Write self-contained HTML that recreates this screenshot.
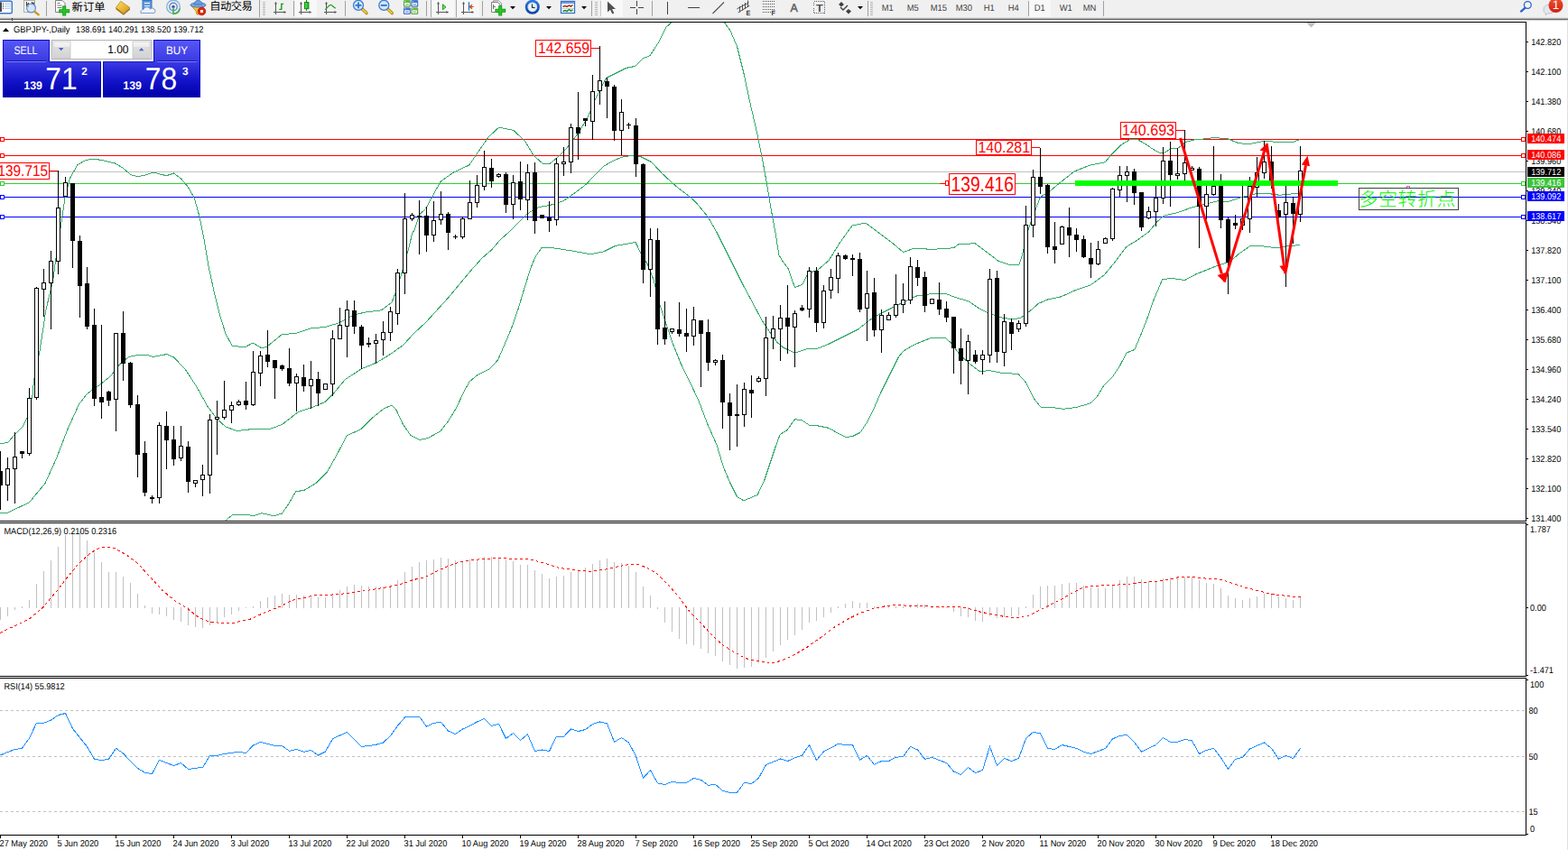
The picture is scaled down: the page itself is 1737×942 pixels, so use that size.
<!DOCTYPE html>
<html><head><meta charset="utf-8"><title>GBPJPY Daily</title>
<style>html,body{margin:0;padding:0;background:#fff;overflow:hidden}body{width:1737px;height:942px}svg{display:block}text{white-space:pre}</style>
</head><body>
<svg width="1737" height="942" viewBox="0 0 1737 942" font-family="'Liberation Sans', sans-serif" text-rendering="geometricPrecision">
<rect x="0" y="0" width="1737" height="942" fill="#fff"/>
<defs><clipPath id="c1"><rect x="0" y="25" width="1690" height="552"/></clipPath><clipPath id="c2"><rect x="0" y="580" width="1690" height="169"/></clipPath><clipPath id="c3"><rect x="0" y="752" width="1690" height="173"/></clipPath></defs>
<g clip-path="url(#c1)">
<rect x="0" y="154" width="1690" height="1" fill="#ff0000"/>
<rect x="0" y="172" width="1690" height="1" fill="#ff0000"/>
<rect x="0" y="190" width="1690" height="1" fill="#c0c0c0"/>
<rect x="0" y="203" width="1690" height="1" fill="#32cd32"/>
<rect x="0" y="218" width="1690" height="1" fill="#0000ff"/>
<rect x="0" y="240" width="1690" height="1" fill="#0000ff"/>
<g shape-rendering="crispEdges">
<polyline fill="none" stroke="#35a96b" stroke-width="1" points="0.0,491.8 8.8,490.5 16.0,481.8 25.0,473.0 30.0,463.0 36.0,438.0 37.5,421.8 43.8,390.5 51.0,343.0 58.8,310.0 64.5,267.5 67.5,250.0 72.5,216.0 77.5,197.5 86.0,182.5 95.0,177.5 104.0,176.0 115.0,178.0 127.5,181.0 136.0,186.0 145.0,193.8 152.5,195.5 160.0,194.5 170.0,191.0 180.0,193.8 185.0,194.5 192.5,192.0 200.0,197.5 207.5,206.0 215.0,218.8 221.0,240.0 226.0,265.0 231.0,295.0 237.5,325.0 243.8,350.0 250.0,370.0 257.0,383.0 271.0,385.0 280.0,380.0 290.0,385.8 296.0,384.0 312.5,370.5 327.5,369.5 345.0,363.8 360.0,362.5 375.0,358.0 392.5,348.8 405.0,346.0 422.5,343.8 434.0,335.0 439.0,322.5 446.5,297.5 452.8,275.0 456.5,259.0 459.0,255.0 465.0,237.5 471.5,231.5 487.8,201.5 501.5,191.5 520.0,182.8 530.0,167.8 541.5,151.5 552.8,141.0 569.0,144.5 581.5,156.5 591.5,172.8 601.5,181.5 609.0,181.5 616.5,175.3 627.8,164.0 641.5,146.5 651.5,129.0 660.0,109.0 671.5,86.5 684.0,80.3 694.0,75.3 704.0,73.3 711.5,65.3 720.0,61.5 729.0,47.8 737.8,30.3 744.0,24.8 750.0,10.0 775.0,-5.0 795.0,8.0 802.8,25.3 809.0,34.0 816.5,51.5 824.0,81.5 831.5,116.5 839.0,149.0 845.0,179.0 850.0,206.5 855.0,236.5 859.0,257.8 862.8,282.5 868.0,291.0 873.0,297.5 880.5,318.8 889.0,315.0 895.5,302.5 905.5,299.5 918.0,288.8 930.5,268.8 944.0,250.0 959.0,247.0 968.0,253.8 978.0,261.3 988.0,268.8 1000.5,279.5 1013.0,275.0 1030.5,276.3 1043.3,275.8 1056.7,274.7 1061.7,270.8 1080.0,269.7 1088.3,275.8 1101.7,285.8 1105.0,288.8 1117.5,293.3 1128.8,293.8 1132.5,282.5 1137.5,260.0 1143.8,240.0 1146.7,233.3 1152.5,218.3 1163.3,211.7 1173.3,203.3 1190.0,190.0 1206.7,183.3 1224.2,179.7 1231.7,170.8 1241.7,160.8 1251.7,154.7 1260.8,155.0 1268.3,159.2 1276.7,165.0 1285.0,169.7 1290.0,169.2 1296.7,165.0 1305.0,164.2 1313.3,157.5 1322.5,155.0 1335.0,153.8 1345.0,152.5 1360.0,153.8 1372.5,158.8 1385.0,159.5 1400.0,156.3 1417.5,157.5 1432.5,157.5 1440.0,154.5"/>
<polyline fill="none" stroke="#35a96b" stroke-width="1" points="0.0,569.0 8.8,568.0 32.5,556.8 50.0,535.5 62.5,508.0 75.0,475.5 87.5,448.0 96.0,436.8 110.0,426.8 122.5,416.8 132.5,404.0 142.5,395.5 152.5,393.5 165.0,394.0 170.0,395.5 185.0,392.5 192.5,396.0 205.0,409.0 217.5,428.0 230.0,450.5 240.0,464.0 250.0,473.0 262.5,477.5 280.0,475.5 297.5,476.0 312.5,470.5 330.0,456.8 345.0,451.8 360.0,445.5 370.0,435.5 382.5,420.5 400.0,409.0 417.5,401.8 434.0,391.5 446.5,382.5 459.0,369.0 471.5,357.5 484.0,343.8 496.5,330.0 509.0,315.0 521.5,300.0 534.0,286.0 544.0,277.5 554.0,266.0 564.0,257.0 574.0,247.0 584.0,237.0 596.5,229.5 609.0,227.5 624.0,222.8 636.5,214.0 649.0,204.5 659.0,194.0 669.0,184.0 680.0,177.8 691.5,173.3 699.0,172.8 709.0,173.3 721.5,179.5 734.0,192.8 749.0,206.5 764.0,217.8 771.5,225.0 784.0,240.0 794.0,257.5 804.0,277.5 814.0,297.5 824.0,317.5 834.0,336.0 844.0,355.0 854.0,370.0 861.5,380.0 868.0,385.3 880.5,391.3 893.0,387.0 905.5,386.3 918.0,381.3 933.0,373.8 950.5,365.0 963.0,355.0 975.5,347.5 988.0,341.3 1003.0,333.8 1015.5,328.0 1030.5,325.8 1048.0,325.5 1058.0,329.5 1073.0,333.8 1085.5,342.5 1095.5,347.0 1110.0,352.0 1120.5,353.8 1130.5,352.5 1140.5,345.0 1150.5,336.3 1160.5,332.0 1175.5,328.8 1190.5,322.0 1208.0,316.0 1223.0,305.0 1235.5,290.0 1247.5,273.8 1260.0,266.0 1272.5,257.0 1282.5,245.0 1290.0,238.8 1305.0,235.5 1320.0,230.0 1335.0,226.3 1350.0,222.5 1360.0,223.8 1375.0,218.8 1390.0,215.0 1405.0,214.5 1417.5,216.3 1430.0,215.0 1440.0,213.8"/>
<polyline fill="none" stroke="#35a96b" stroke-width="1" points="245.0,590.0 250.0,576.8 257.5,570.5 275.0,570.5 280.0,572.0 290.0,568.8 304.0,571.8 312.5,569.0 320.0,558.0 327.5,545.0 337.5,543.0 350.0,535.5 362.5,523.0 375.0,500.5 384.0,483.0 400.0,475.5 412.5,463.0 425.0,453.0 434.0,449.0 439.0,454.3 446.5,470.5 455.0,482.5 465.0,487.5 474.0,485.5 487.8,478.0 496.5,466.8 505.0,453.0 514.0,434.0 520.0,423.0 529.0,415.5 542.8,408.5 551.5,399.0 559.0,381.8 566.5,364.0 574.0,342.5 581.5,317.5 587.8,297.5 592.8,285.0 600.0,274.5 614.0,275.0 634.0,278.0 654.0,281.8 669.0,278.8 681.5,272.5 696.5,270.0 704.0,268.3 709.0,278.8 716.5,291.3 724.0,310.0 730.0,335.0 737.8,358.8 745.0,380.0 754.0,402.5 764.0,423.0 774.0,444.0 784.0,470.5 794.0,493.0 801.5,518.0 809.0,535.5 816.5,550.5 824.0,554.8 839.0,548.5 846.5,533.0 854.0,510.5 859.0,495.5 864.0,481.8 868.0,479.0 871.8,476.8 880.5,464.8 888.0,465.5 896.8,471.3 905.5,471.8 918.0,474.3 928.0,480.0 938.0,484.8 945.5,483.0 953.0,479.3 960.5,468.0 968.0,453.0 975.5,435.5 985.5,415.5 995.5,395.5 1000.5,389.3 1013.0,381.8 1030.5,374.8 1048.0,375.0 1054.0,380.5 1063.0,393.0 1075.5,404.3 1085.5,411.8 1095.5,410.5 1108.0,413.0 1128.0,414.5 1136.8,424.3 1145.5,441.8 1153.0,451.3 1168.0,451.8 1178.0,453.3 1193.0,451.3 1208.0,446.8 1215.5,439.3 1223.0,426.8 1233.0,416.8 1240.5,405.5 1248.0,391.0 1256.8,387.5 1263.0,373.0 1270.5,354.0 1278.0,332.5 1287.5,310.0 1297.5,308.3 1312.5,310.5 1325.0,303.8 1337.5,298.8 1350.0,293.8 1362.5,290.0 1372.5,281.3 1385.0,272.5 1400.0,273.0 1415.0,275.0 1425.0,273.0 1440.0,271.5"/>
</g>
<g shape-rendering="crispEdges">
<rect x="0" y="500" width="1" height="65" fill="#000"/>
<rect x="-2" y="522" width="5" height="16" fill="#000"/>
<rect x="8" y="507" width="1" height="48" fill="#000"/>
<rect x="6" y="519" width="5" height="19" fill="#000"/>
<rect x="7" y="520" width="3" height="17" fill="#fff"/>
<rect x="16" y="479" width="1" height="79" fill="#000"/>
<rect x="14" y="506" width="5" height="14" fill="#000"/>
<rect x="15" y="507" width="3" height="12" fill="#fff"/>
<rect x="24" y="500" width="1" height="8" fill="#000"/>
<rect x="22" y="500" width="5" height="3" fill="#000"/>
<rect x="32" y="430" width="1" height="75" fill="#000"/>
<rect x="30" y="441" width="5" height="62" fill="#000"/>
<rect x="31" y="442" width="3" height="60" fill="#fff"/>
<rect x="40" y="318" width="1" height="125" fill="#000"/>
<rect x="38" y="319" width="5" height="122" fill="#000"/>
<rect x="39" y="320" width="3" height="120" fill="#fff"/>
<rect x="48" y="298" width="1" height="53" fill="#000"/>
<rect x="46" y="313" width="5" height="8" fill="#000"/>
<rect x="47" y="314" width="3" height="6" fill="#fff"/>
<rect x="56" y="278" width="1" height="87" fill="#000"/>
<rect x="54" y="289" width="5" height="25" fill="#000"/>
<rect x="55" y="290" width="3" height="23" fill="#fff"/>
<rect x="64" y="189" width="1" height="115" fill="#000"/>
<rect x="62" y="230" width="5" height="60" fill="#000"/>
<rect x="63" y="231" width="3" height="58" fill="#fff"/>
<rect x="72" y="196" width="1" height="22" fill="#000"/>
<rect x="70" y="202" width="5" height="16" fill="#000"/>
<rect x="71" y="203" width="3" height="14" fill="#fff"/>
<rect x="80" y="203" width="1" height="94" fill="#000"/>
<rect x="78" y="203" width="5" height="64" fill="#000"/>
<rect x="88" y="261" width="1" height="91" fill="#000"/>
<rect x="86" y="267" width="5" height="50" fill="#000"/>
<rect x="96" y="296" width="1" height="69" fill="#000"/>
<rect x="94" y="314" width="5" height="48" fill="#000"/>
<rect x="104" y="342" width="1" height="108" fill="#000"/>
<rect x="102" y="360" width="5" height="82" fill="#000"/>
<rect x="112" y="360" width="1" height="104" fill="#000"/>
<rect x="110" y="440" width="5" height="6" fill="#000"/>
<rect x="120" y="433" width="1" height="17" fill="#000"/>
<rect x="118" y="434" width="5" height="10" fill="#000"/>
<rect x="128" y="369" width="1" height="109" fill="#000"/>
<rect x="126" y="369" width="5" height="74" fill="#000"/>
<rect x="127" y="370" width="3" height="72" fill="#fff"/>
<rect x="136" y="345" width="1" height="77" fill="#000"/>
<rect x="134" y="369" width="5" height="34" fill="#000"/>
<rect x="144" y="401" width="1" height="51" fill="#000"/>
<rect x="142" y="402" width="5" height="47" fill="#000"/>
<rect x="152" y="438" width="1" height="91" fill="#000"/>
<rect x="150" y="448" width="5" height="56" fill="#000"/>
<rect x="160" y="489" width="1" height="61" fill="#000"/>
<rect x="158" y="502" width="5" height="44" fill="#000"/>
<rect x="168" y="549" width="1" height="9" fill="#000"/>
<rect x="166" y="551" width="5" height="2" fill="#000"/>
<rect x="176" y="468" width="1" height="90" fill="#000"/>
<rect x="174" y="471" width="5" height="81" fill="#000"/>
<rect x="175" y="472" width="3" height="79" fill="#fff"/>
<rect x="184" y="456" width="1" height="64" fill="#000"/>
<rect x="182" y="472" width="5" height="16" fill="#000"/>
<rect x="192" y="472" width="1" height="44" fill="#000"/>
<rect x="190" y="487" width="5" height="22" fill="#000"/>
<rect x="200" y="472" width="1" height="39" fill="#000"/>
<rect x="198" y="494" width="5" height="14" fill="#000"/>
<rect x="199" y="495" width="3" height="12" fill="#fff"/>
<rect x="208" y="489" width="1" height="57" fill="#000"/>
<rect x="206" y="495" width="5" height="39" fill="#000"/>
<rect x="216" y="532" width="1" height="8" fill="#000"/>
<rect x="214" y="532" width="5" height="4" fill="#000"/>
<rect x="215" y="533" width="3" height="2" fill="#fff"/>
<rect x="224" y="515" width="1" height="35" fill="#000"/>
<rect x="222" y="526" width="5" height="6" fill="#000"/>
<rect x="223" y="527" width="3" height="4" fill="#fff"/>
<rect x="232" y="459" width="1" height="88" fill="#000"/>
<rect x="230" y="465" width="5" height="62" fill="#000"/>
<rect x="231" y="466" width="3" height="60" fill="#fff"/>
<rect x="240" y="444" width="1" height="60" fill="#000"/>
<rect x="238" y="462" width="5" height="3" fill="#000"/>
<rect x="239" y="463" width="3" height="1" fill="#fff"/>
<rect x="248" y="422" width="1" height="43" fill="#000"/>
<rect x="246" y="454" width="5" height="9" fill="#000"/>
<rect x="247" y="455" width="3" height="7" fill="#fff"/>
<rect x="256" y="445" width="1" height="24" fill="#000"/>
<rect x="254" y="449" width="5" height="6" fill="#000"/>
<rect x="255" y="450" width="3" height="4" fill="#fff"/>
<rect x="264" y="443" width="1" height="7" fill="#000"/>
<rect x="262" y="445" width="5" height="4" fill="#000"/>
<rect x="263" y="446" width="3" height="2" fill="#fff"/>
<rect x="272" y="423" width="1" height="31" fill="#000"/>
<rect x="270" y="444" width="5" height="5" fill="#000"/>
<rect x="280" y="389" width="1" height="61" fill="#000"/>
<rect x="278" y="412" width="5" height="37" fill="#000"/>
<rect x="279" y="413" width="3" height="35" fill="#fff"/>
<rect x="288" y="389" width="1" height="39" fill="#000"/>
<rect x="286" y="394" width="5" height="20" fill="#000"/>
<rect x="287" y="395" width="3" height="18" fill="#fff"/>
<rect x="296" y="366" width="1" height="41" fill="#000"/>
<rect x="294" y="393" width="5" height="8" fill="#000"/>
<rect x="304" y="399" width="1" height="43" fill="#000"/>
<rect x="302" y="399" width="5" height="9" fill="#000"/>
<rect x="312" y="404" width="1" height="7" fill="#000"/>
<rect x="310" y="405" width="5" height="4" fill="#000"/>
<rect x="320" y="386" width="1" height="42" fill="#000"/>
<rect x="318" y="408" width="5" height="17" fill="#000"/>
<rect x="328" y="414" width="1" height="42" fill="#000"/>
<rect x="326" y="417" width="5" height="8" fill="#000"/>
<rect x="327" y="418" width="3" height="6" fill="#fff"/>
<rect x="336" y="404" width="1" height="30" fill="#000"/>
<rect x="334" y="418" width="5" height="10" fill="#000"/>
<rect x="344" y="400" width="1" height="53" fill="#000"/>
<rect x="342" y="420" width="5" height="8" fill="#000"/>
<rect x="343" y="421" width="3" height="6" fill="#fff"/>
<rect x="352" y="412" width="1" height="38" fill="#000"/>
<rect x="350" y="420" width="5" height="16" fill="#000"/>
<rect x="360" y="425" width="1" height="7" fill="#000"/>
<rect x="358" y="425" width="5" height="7" fill="#000"/>
<rect x="359" y="426" width="3" height="5" fill="#fff"/>
<rect x="368" y="366" width="1" height="73" fill="#000"/>
<rect x="366" y="375" width="5" height="51" fill="#000"/>
<rect x="367" y="376" width="3" height="49" fill="#fff"/>
<rect x="376" y="341" width="1" height="35" fill="#000"/>
<rect x="374" y="360" width="5" height="16" fill="#000"/>
<rect x="375" y="361" width="3" height="14" fill="#fff"/>
<rect x="384" y="333" width="1" height="63" fill="#000"/>
<rect x="382" y="343" width="5" height="19" fill="#000"/>
<rect x="383" y="344" width="3" height="17" fill="#fff"/>
<rect x="392" y="333" width="1" height="37" fill="#000"/>
<rect x="390" y="344" width="5" height="18" fill="#000"/>
<rect x="400" y="360" width="1" height="49" fill="#000"/>
<rect x="398" y="362" width="5" height="21" fill="#000"/>
<rect x="408" y="374" width="1" height="11" fill="#000"/>
<rect x="406" y="380" width="5" height="2" fill="#000"/>
<rect x="416" y="370" width="1" height="33" fill="#000"/>
<rect x="414" y="377" width="5" height="4" fill="#000"/>
<rect x="415" y="378" width="3" height="2" fill="#fff"/>
<rect x="424" y="356" width="1" height="38" fill="#000"/>
<rect x="422" y="368" width="5" height="9" fill="#000"/>
<rect x="423" y="369" width="3" height="7" fill="#fff"/>
<rect x="432" y="340" width="1" height="38" fill="#000"/>
<rect x="430" y="345" width="5" height="24" fill="#000"/>
<rect x="431" y="346" width="3" height="22" fill="#fff"/>
<rect x="440" y="298" width="1" height="62" fill="#000"/>
<rect x="438" y="302" width="5" height="46" fill="#000"/>
<rect x="439" y="303" width="3" height="44" fill="#fff"/>
<rect x="448" y="214" width="1" height="112" fill="#000"/>
<rect x="446" y="242" width="5" height="61" fill="#000"/>
<rect x="447" y="243" width="3" height="59" fill="#fff"/>
<rect x="456" y="236" width="1" height="9" fill="#000"/>
<rect x="454" y="238" width="5" height="5" fill="#000"/>
<rect x="455" y="239" width="3" height="3" fill="#fff"/>
<rect x="464" y="222" width="1" height="60" fill="#000"/>
<rect x="462" y="239" width="5" height="2" fill="#000"/>
<rect x="472" y="229" width="1" height="50" fill="#000"/>
<rect x="470" y="239" width="5" height="22" fill="#000"/>
<rect x="480" y="223" width="1" height="45" fill="#000"/>
<rect x="478" y="244" width="5" height="17" fill="#000"/>
<rect x="479" y="245" width="3" height="15" fill="#fff"/>
<rect x="488" y="212" width="1" height="37" fill="#000"/>
<rect x="486" y="237" width="5" height="7" fill="#000"/>
<rect x="487" y="238" width="3" height="5" fill="#fff"/>
<rect x="496" y="235" width="1" height="42" fill="#000"/>
<rect x="494" y="237" width="5" height="21" fill="#000"/>
<rect x="504" y="260" width="1" height="5" fill="#000"/>
<rect x="502" y="262" width="5" height="1" fill="#000"/>
<rect x="512" y="240" width="1" height="25" fill="#000"/>
<rect x="510" y="242" width="5" height="21" fill="#000"/>
<rect x="511" y="243" width="3" height="19" fill="#fff"/>
<rect x="520" y="200" width="1" height="43" fill="#000"/>
<rect x="518" y="224" width="5" height="19" fill="#000"/>
<rect x="519" y="225" width="3" height="17" fill="#fff"/>
<rect x="528" y="194" width="1" height="36" fill="#000"/>
<rect x="526" y="205" width="5" height="20" fill="#000"/>
<rect x="527" y="206" width="3" height="18" fill="#fff"/>
<rect x="536" y="167" width="1" height="44" fill="#000"/>
<rect x="534" y="185" width="5" height="22" fill="#000"/>
<rect x="535" y="186" width="3" height="20" fill="#fff"/>
<rect x="544" y="176" width="1" height="32" fill="#000"/>
<rect x="542" y="186" width="5" height="15" fill="#000"/>
<rect x="552" y="192" width="1" height="5" fill="#000"/>
<rect x="550" y="193" width="5" height="3" fill="#000"/>
<rect x="551" y="194" width="3" height="1" fill="#fff"/>
<rect x="560" y="191" width="1" height="45" fill="#000"/>
<rect x="558" y="193" width="5" height="34" fill="#000"/>
<rect x="568" y="194" width="1" height="49" fill="#000"/>
<rect x="566" y="202" width="5" height="25" fill="#000"/>
<rect x="567" y="203" width="3" height="23" fill="#fff"/>
<rect x="576" y="179" width="1" height="54" fill="#000"/>
<rect x="574" y="201" width="5" height="20" fill="#000"/>
<rect x="584" y="182" width="1" height="62" fill="#000"/>
<rect x="582" y="191" width="5" height="31" fill="#000"/>
<rect x="583" y="192" width="3" height="29" fill="#fff"/>
<rect x="592" y="180" width="1" height="79" fill="#000"/>
<rect x="590" y="191" width="5" height="54" fill="#000"/>
<rect x="600" y="238" width="1" height="4" fill="#000"/>
<rect x="598" y="238" width="5" height="4" fill="#000"/>
<rect x="608" y="223" width="1" height="34" fill="#000"/>
<rect x="606" y="241" width="5" height="4" fill="#000"/>
<rect x="616" y="175" width="1" height="75" fill="#000"/>
<rect x="614" y="181" width="5" height="63" fill="#000"/>
<rect x="615" y="182" width="3" height="61" fill="#fff"/>
<rect x="624" y="163" width="1" height="32" fill="#000"/>
<rect x="622" y="179" width="5" height="3" fill="#000"/>
<rect x="623" y="180" width="3" height="1" fill="#fff"/>
<rect x="632" y="137" width="1" height="55" fill="#000"/>
<rect x="630" y="141" width="5" height="39" fill="#000"/>
<rect x="631" y="142" width="3" height="37" fill="#fff"/>
<rect x="640" y="102" width="1" height="75" fill="#000"/>
<rect x="638" y="141" width="5" height="7" fill="#000"/>
<rect x="648" y="131" width="1" height="9" fill="#000"/>
<rect x="646" y="131" width="5" height="3" fill="#000"/>
<rect x="656" y="83" width="1" height="72" fill="#000"/>
<rect x="654" y="101" width="5" height="34" fill="#000"/>
<rect x="655" y="102" width="3" height="32" fill="#fff"/>
<rect x="664" y="51" width="1" height="65" fill="#000"/>
<rect x="662" y="89" width="5" height="12" fill="#000"/>
<rect x="663" y="90" width="3" height="10" fill="#fff"/>
<rect x="672" y="86" width="1" height="45" fill="#000"/>
<rect x="670" y="90" width="5" height="6" fill="#000"/>
<rect x="680" y="94" width="1" height="62" fill="#000"/>
<rect x="678" y="96" width="5" height="49" fill="#000"/>
<rect x="688" y="110" width="1" height="62" fill="#000"/>
<rect x="686" y="124" width="5" height="21" fill="#000"/>
<rect x="687" y="125" width="3" height="19" fill="#fff"/>
<rect x="696" y="136" width="1" height="7" fill="#000"/>
<rect x="694" y="138" width="5" height="1" fill="#000"/>
<rect x="704" y="131" width="1" height="65" fill="#000"/>
<rect x="702" y="139" width="5" height="43" fill="#000"/>
<rect x="712" y="181" width="1" height="133" fill="#000"/>
<rect x="710" y="182" width="5" height="117" fill="#000"/>
<rect x="720" y="253" width="1" height="76" fill="#000"/>
<rect x="718" y="265" width="5" height="34" fill="#000"/>
<rect x="719" y="266" width="3" height="32" fill="#fff"/>
<rect x="728" y="253" width="1" height="129" fill="#000"/>
<rect x="726" y="266" width="5" height="99" fill="#000"/>
<rect x="736" y="334" width="1" height="48" fill="#000"/>
<rect x="734" y="363" width="5" height="13" fill="#000"/>
<rect x="744" y="364" width="1" height="6" fill="#000"/>
<rect x="742" y="364" width="5" height="4" fill="#000"/>
<rect x="743" y="365" width="3" height="2" fill="#fff"/>
<rect x="752" y="335" width="1" height="38" fill="#000"/>
<rect x="750" y="365" width="5" height="5" fill="#000"/>
<rect x="760" y="342" width="1" height="48" fill="#000"/>
<rect x="758" y="369" width="5" height="4" fill="#000"/>
<rect x="768" y="340" width="1" height="43" fill="#000"/>
<rect x="766" y="354" width="5" height="19" fill="#000"/>
<rect x="767" y="355" width="3" height="17" fill="#fff"/>
<rect x="776" y="355" width="1" height="74" fill="#000"/>
<rect x="774" y="355" width="5" height="15" fill="#000"/>
<rect x="784" y="354" width="1" height="57" fill="#000"/>
<rect x="782" y="368" width="5" height="34" fill="#000"/>
<rect x="792" y="398" width="1" height="7" fill="#000"/>
<rect x="790" y="399" width="5" height="3" fill="#000"/>
<rect x="791" y="400" width="3" height="1" fill="#fff"/>
<rect x="800" y="393" width="1" height="82" fill="#000"/>
<rect x="798" y="399" width="5" height="47" fill="#000"/>
<rect x="808" y="436" width="1" height="63" fill="#000"/>
<rect x="806" y="446" width="5" height="15" fill="#000"/>
<rect x="816" y="426" width="1" height="69" fill="#000"/>
<rect x="814" y="459" width="5" height="2" fill="#000"/>
<rect x="824" y="424" width="1" height="49" fill="#000"/>
<rect x="822" y="431" width="5" height="29" fill="#000"/>
<rect x="823" y="432" width="3" height="27" fill="#fff"/>
<rect x="832" y="416" width="1" height="47" fill="#000"/>
<rect x="830" y="432" width="5" height="4" fill="#000"/>
<rect x="840" y="417" width="1" height="7" fill="#000"/>
<rect x="838" y="419" width="5" height="4" fill="#000"/>
<rect x="839" y="420" width="3" height="2" fill="#fff"/>
<rect x="848" y="351" width="1" height="88" fill="#000"/>
<rect x="846" y="374" width="5" height="46" fill="#000"/>
<rect x="847" y="375" width="3" height="44" fill="#fff"/>
<rect x="856" y="350" width="1" height="37" fill="#000"/>
<rect x="854" y="364" width="5" height="11" fill="#000"/>
<rect x="855" y="365" width="3" height="9" fill="#fff"/>
<rect x="864" y="338" width="1" height="62" fill="#000"/>
<rect x="862" y="352" width="5" height="13" fill="#000"/>
<rect x="863" y="353" width="3" height="11" fill="#fff"/>
<rect x="872" y="316" width="1" height="76" fill="#000"/>
<rect x="870" y="352" width="5" height="10" fill="#000"/>
<rect x="880" y="344" width="1" height="63" fill="#000"/>
<rect x="878" y="347" width="5" height="16" fill="#000"/>
<rect x="879" y="348" width="3" height="14" fill="#fff"/>
<rect x="888" y="338" width="1" height="7" fill="#000"/>
<rect x="886" y="341" width="5" height="3" fill="#000"/>
<rect x="896" y="296" width="1" height="56" fill="#000"/>
<rect x="894" y="300" width="5" height="43" fill="#000"/>
<rect x="895" y="301" width="3" height="41" fill="#fff"/>
<rect x="904" y="296" width="1" height="72" fill="#000"/>
<rect x="902" y="300" width="5" height="58" fill="#000"/>
<rect x="912" y="316" width="1" height="48" fill="#000"/>
<rect x="910" y="322" width="5" height="36" fill="#000"/>
<rect x="911" y="323" width="3" height="34" fill="#fff"/>
<rect x="920" y="298" width="1" height="33" fill="#000"/>
<rect x="918" y="307" width="5" height="15" fill="#000"/>
<rect x="919" y="308" width="3" height="13" fill="#fff"/>
<rect x="928" y="280" width="1" height="45" fill="#000"/>
<rect x="926" y="283" width="5" height="26" fill="#000"/>
<rect x="927" y="284" width="3" height="24" fill="#fff"/>
<rect x="936" y="282" width="1" height="6" fill="#000"/>
<rect x="934" y="283" width="5" height="4" fill="#000"/>
<rect x="944" y="282" width="1" height="24" fill="#000"/>
<rect x="942" y="286" width="5" height="2" fill="#000"/>
<rect x="952" y="280" width="1" height="66" fill="#000"/>
<rect x="950" y="287" width="5" height="56" fill="#000"/>
<rect x="960" y="300" width="1" height="78" fill="#000"/>
<rect x="958" y="325" width="5" height="17" fill="#000"/>
<rect x="959" y="326" width="3" height="15" fill="#fff"/>
<rect x="968" y="308" width="1" height="65" fill="#000"/>
<rect x="966" y="324" width="5" height="42" fill="#000"/>
<rect x="976" y="343" width="1" height="48" fill="#000"/>
<rect x="974" y="349" width="5" height="17" fill="#000"/>
<rect x="975" y="350" width="3" height="15" fill="#fff"/>
<rect x="984" y="346" width="1" height="9" fill="#000"/>
<rect x="982" y="349" width="5" height="6" fill="#000"/>
<rect x="983" y="350" width="3" height="4" fill="#fff"/>
<rect x="992" y="304" width="1" height="48" fill="#000"/>
<rect x="990" y="337" width="5" height="13" fill="#000"/>
<rect x="991" y="338" width="3" height="11" fill="#fff"/>
<rect x="1000" y="314" width="1" height="33" fill="#000"/>
<rect x="998" y="332" width="5" height="6" fill="#000"/>
<rect x="999" y="333" width="3" height="4" fill="#fff"/>
<rect x="1008" y="285" width="1" height="52" fill="#000"/>
<rect x="1006" y="295" width="5" height="38" fill="#000"/>
<rect x="1007" y="296" width="3" height="36" fill="#fff"/>
<rect x="1016" y="288" width="1" height="29" fill="#000"/>
<rect x="1014" y="296" width="5" height="12" fill="#000"/>
<rect x="1024" y="301" width="1" height="45" fill="#000"/>
<rect x="1022" y="307" width="5" height="32" fill="#000"/>
<rect x="1032" y="331" width="1" height="6" fill="#000"/>
<rect x="1030" y="331" width="5" height="6" fill="#000"/>
<rect x="1031" y="332" width="3" height="4" fill="#fff"/>
<rect x="1040" y="313" width="1" height="36" fill="#000"/>
<rect x="1038" y="332" width="5" height="11" fill="#000"/>
<rect x="1048" y="334" width="1" height="23" fill="#000"/>
<rect x="1046" y="342" width="5" height="10" fill="#000"/>
<rect x="1056" y="351" width="1" height="63" fill="#000"/>
<rect x="1054" y="351" width="5" height="35" fill="#000"/>
<rect x="1064" y="364" width="1" height="62" fill="#000"/>
<rect x="1062" y="386" width="5" height="14" fill="#000"/>
<rect x="1072" y="371" width="1" height="66" fill="#000"/>
<rect x="1070" y="378" width="5" height="22" fill="#000"/>
<rect x="1071" y="379" width="3" height="20" fill="#fff"/>
<rect x="1080" y="388" width="1" height="15" fill="#000"/>
<rect x="1078" y="393" width="5" height="8" fill="#000"/>
<rect x="1088" y="388" width="1" height="27" fill="#000"/>
<rect x="1086" y="393" width="5" height="6" fill="#000"/>
<rect x="1087" y="394" width="3" height="4" fill="#fff"/>
<rect x="1096" y="298" width="1" height="104" fill="#000"/>
<rect x="1094" y="309" width="5" height="85" fill="#000"/>
<rect x="1095" y="310" width="3" height="83" fill="#fff"/>
<rect x="1104" y="300" width="1" height="102" fill="#000"/>
<rect x="1102" y="308" width="5" height="82" fill="#000"/>
<rect x="1112" y="348" width="1" height="58" fill="#000"/>
<rect x="1110" y="356" width="5" height="35" fill="#000"/>
<rect x="1111" y="357" width="3" height="33" fill="#fff"/>
<rect x="1120" y="353" width="1" height="35" fill="#000"/>
<rect x="1118" y="357" width="5" height="13" fill="#000"/>
<rect x="1128" y="355" width="1" height="13" fill="#000"/>
<rect x="1126" y="358" width="5" height="7" fill="#000"/>
<rect x="1127" y="359" width="3" height="5" fill="#fff"/>
<rect x="1136" y="228" width="1" height="134" fill="#000"/>
<rect x="1134" y="249" width="5" height="110" fill="#000"/>
<rect x="1135" y="250" width="3" height="108" fill="#fff"/>
<rect x="1144" y="188" width="1" height="75" fill="#000"/>
<rect x="1142" y="196" width="5" height="54" fill="#000"/>
<rect x="1143" y="197" width="3" height="52" fill="#fff"/>
<rect x="1152" y="164" width="1" height="51" fill="#000"/>
<rect x="1150" y="196" width="5" height="11" fill="#000"/>
<rect x="1160" y="204" width="1" height="77" fill="#000"/>
<rect x="1158" y="205" width="5" height="69" fill="#000"/>
<rect x="1168" y="246" width="1" height="46" fill="#000"/>
<rect x="1166" y="273" width="5" height="4" fill="#000"/>
<rect x="1176" y="250" width="1" height="21" fill="#000"/>
<rect x="1174" y="251" width="5" height="20" fill="#000"/>
<rect x="1175" y="252" width="3" height="18" fill="#fff"/>
<rect x="1184" y="230" width="1" height="55" fill="#000"/>
<rect x="1182" y="252" width="5" height="9" fill="#000"/>
<rect x="1192" y="253" width="1" height="26" fill="#000"/>
<rect x="1190" y="260" width="5" height="6" fill="#000"/>
<rect x="1200" y="261" width="1" height="25" fill="#000"/>
<rect x="1198" y="265" width="5" height="20" fill="#000"/>
<rect x="1208" y="269" width="1" height="39" fill="#000"/>
<rect x="1206" y="286" width="5" height="7" fill="#000"/>
<rect x="1216" y="267" width="1" height="27" fill="#000"/>
<rect x="1214" y="276" width="5" height="17" fill="#000"/>
<rect x="1215" y="277" width="3" height="15" fill="#fff"/>
<rect x="1224" y="263" width="1" height="7" fill="#000"/>
<rect x="1222" y="264" width="5" height="6" fill="#000"/>
<rect x="1223" y="265" width="3" height="4" fill="#fff"/>
<rect x="1232" y="208" width="1" height="59" fill="#000"/>
<rect x="1230" y="209" width="5" height="56" fill="#000"/>
<rect x="1231" y="210" width="3" height="54" fill="#fff"/>
<rect x="1240" y="184" width="1" height="34" fill="#000"/>
<rect x="1238" y="194" width="5" height="17" fill="#000"/>
<rect x="1239" y="195" width="3" height="15" fill="#fff"/>
<rect x="1248" y="184" width="1" height="40" fill="#000"/>
<rect x="1246" y="190" width="5" height="5" fill="#000"/>
<rect x="1247" y="191" width="3" height="3" fill="#fff"/>
<rect x="1256" y="187" width="1" height="40" fill="#000"/>
<rect x="1254" y="190" width="5" height="24" fill="#000"/>
<rect x="1264" y="213" width="1" height="43" fill="#000"/>
<rect x="1262" y="213" width="5" height="39" fill="#000"/>
<rect x="1272" y="229" width="1" height="14" fill="#000"/>
<rect x="1270" y="234" width="5" height="8" fill="#000"/>
<rect x="1271" y="235" width="3" height="6" fill="#fff"/>
<rect x="1280" y="206" width="1" height="45" fill="#000"/>
<rect x="1278" y="219" width="5" height="16" fill="#000"/>
<rect x="1279" y="220" width="3" height="14" fill="#fff"/>
<rect x="1288" y="163" width="1" height="63" fill="#000"/>
<rect x="1286" y="178" width="5" height="42" fill="#000"/>
<rect x="1287" y="179" width="3" height="40" fill="#fff"/>
<rect x="1296" y="157" width="1" height="72" fill="#000"/>
<rect x="1294" y="178" width="5" height="16" fill="#000"/>
<rect x="1304" y="164" width="1" height="35" fill="#000"/>
<rect x="1302" y="192" width="5" height="3" fill="#000"/>
<rect x="1303" y="193" width="3" height="1" fill="#fff"/>
<rect x="1312" y="144" width="1" height="56" fill="#000"/>
<rect x="1310" y="180" width="5" height="13" fill="#000"/>
<rect x="1311" y="181" width="3" height="11" fill="#fff"/>
<rect x="1320" y="184" width="1" height="5" fill="#000"/>
<rect x="1318" y="186" width="5" height="3" fill="#000"/>
<rect x="1319" y="187" width="3" height="1" fill="#fff"/>
<rect x="1328" y="185" width="1" height="90" fill="#000"/>
<rect x="1326" y="187" width="5" height="42" fill="#000"/>
<rect x="1336" y="205" width="1" height="38" fill="#000"/>
<rect x="1334" y="215" width="5" height="14" fill="#000"/>
<rect x="1335" y="216" width="3" height="12" fill="#fff"/>
<rect x="1344" y="162" width="1" height="55" fill="#000"/>
<rect x="1342" y="206" width="5" height="10" fill="#000"/>
<rect x="1343" y="207" width="3" height="8" fill="#fff"/>
<rect x="1352" y="193" width="1" height="60" fill="#000"/>
<rect x="1350" y="206" width="5" height="38" fill="#000"/>
<rect x="1360" y="241" width="1" height="85" fill="#000"/>
<rect x="1358" y="243" width="5" height="48" fill="#000"/>
<rect x="1368" y="238" width="1" height="16" fill="#000"/>
<rect x="1366" y="247" width="5" height="3" fill="#000"/>
<rect x="1376" y="205" width="1" height="50" fill="#000"/>
<rect x="1374" y="242" width="5" height="8" fill="#000"/>
<rect x="1375" y="243" width="3" height="6" fill="#fff"/>
<rect x="1384" y="196" width="1" height="62" fill="#000"/>
<rect x="1382" y="206" width="5" height="37" fill="#000"/>
<rect x="1383" y="207" width="3" height="35" fill="#fff"/>
<rect x="1392" y="174" width="1" height="44" fill="#000"/>
<rect x="1390" y="191" width="5" height="17" fill="#000"/>
<rect x="1391" y="192" width="3" height="15" fill="#fff"/>
<rect x="1400" y="156" width="1" height="42" fill="#000"/>
<rect x="1398" y="179" width="5" height="13" fill="#000"/>
<rect x="1399" y="180" width="3" height="11" fill="#fff"/>
<rect x="1408" y="162" width="1" height="47" fill="#000"/>
<rect x="1406" y="179" width="5" height="26" fill="#000"/>
<rect x="1416" y="226" width="1" height="16" fill="#000"/>
<rect x="1414" y="233" width="5" height="8" fill="#000"/>
<rect x="1424" y="206" width="1" height="112" fill="#000"/>
<rect x="1422" y="224" width="5" height="14" fill="#000"/>
<rect x="1423" y="225" width="3" height="12" fill="#fff"/>
<rect x="1432" y="218" width="1" height="52" fill="#000"/>
<rect x="1430" y="225" width="5" height="12" fill="#000"/>
<rect x="1440" y="162" width="1" height="84" fill="#000"/>
<rect x="1438" y="189" width="5" height="49" fill="#000"/>
<rect x="1439" y="190" width="3" height="47" fill="#fff"/>
</g>
<rect x="1191" y="200" width="291" height="6" fill="#00ff00"/>
</g>
<rect x="0.5" y="152.5" width="4" height="4" fill="#fff" stroke="#ff0000" stroke-width="1" shape-rendering="crispEdges"/>
<rect x="1685.5" y="152.5" width="4" height="4" fill="#fff" stroke="#ff0000" stroke-width="1" shape-rendering="crispEdges"/>
<rect x="0.5" y="170.5" width="4" height="4" fill="#fff" stroke="#ff0000" stroke-width="1" shape-rendering="crispEdges"/>
<rect x="1685.5" y="170.5" width="4" height="4" fill="#fff" stroke="#ff0000" stroke-width="1" shape-rendering="crispEdges"/>
<rect x="0.5" y="201.5" width="4" height="4" fill="#fff" stroke="#32cd32" stroke-width="1" shape-rendering="crispEdges"/>
<rect x="1685.5" y="201.5" width="4" height="4" fill="#fff" stroke="#32cd32" stroke-width="1" shape-rendering="crispEdges"/>
<rect x="0.5" y="216.5" width="4" height="4" fill="#fff" stroke="#0000ff" stroke-width="1" shape-rendering="crispEdges"/>
<rect x="1685.5" y="216.5" width="4" height="4" fill="#fff" stroke="#0000ff" stroke-width="1" shape-rendering="crispEdges"/>
<rect x="0.5" y="238.5" width="4" height="4" fill="#fff" stroke="#0000ff" stroke-width="1" shape-rendering="crispEdges"/>
<rect x="1685.5" y="238.5" width="4" height="4" fill="#fff" stroke="#0000ff" stroke-width="1" shape-rendering="crispEdges"/>
<rect x="0" y="24" width="1691" height="1" fill="#000"/>
<rect x="0" y="577" width="1691" height="1" fill="#000"/>
<rect x="0" y="579" width="1691" height="1" fill="#000"/>
<rect x="0" y="749" width="1691" height="1" fill="#000"/>
<rect x="0" y="751" width="1691" height="1" fill="#000"/>
<rect x="0" y="925" width="1691" height="1" fill="#000"/>
<rect x="1690" y="24" width="1" height="554" fill="#000"/>
<rect x="1690" y="579" width="1" height="171" fill="#000"/>
<rect x="1690" y="751" width="1" height="175" fill="#000"/>
<path d="M1447,25 L1458,25 L1452.5,30.5 Z" fill="#c0c0c0"/>
<rect x="1691" y="46" width="2" height="1" fill="#000"/>
<text x="1696.2" y="49.94" font-size="10" fill="#000" text-anchor="start" textLength="33.08" lengthAdjust="spacingAndGlyphs">142.820</text>
<rect x="1691" y="79" width="2" height="1" fill="#000"/>
<text x="1696.2" y="82.94" font-size="10" fill="#000" text-anchor="start" textLength="33.08" lengthAdjust="spacingAndGlyphs">142.100</text>
<rect x="1691" y="112" width="2" height="1" fill="#000"/>
<text x="1696.2" y="115.94" font-size="10" fill="#000" text-anchor="start" textLength="33.08" lengthAdjust="spacingAndGlyphs">141.380</text>
<rect x="1691" y="145" width="2" height="1" fill="#000"/>
<text x="1696.2" y="148.94" font-size="10" fill="#000" text-anchor="start" textLength="33.08" lengthAdjust="spacingAndGlyphs">140.680</text>
<rect x="1691" y="178" width="2" height="1" fill="#000"/>
<text x="1696.2" y="181.94" font-size="10" fill="#000" text-anchor="start" textLength="33.08" lengthAdjust="spacingAndGlyphs">139.960</text>
<rect x="1691" y="211" width="2" height="1" fill="#000"/>
<text x="1696.2" y="214.94" font-size="10" fill="#000" text-anchor="start" textLength="33.08" lengthAdjust="spacingAndGlyphs">139.240</text>
<rect x="1691" y="244" width="2" height="1" fill="#000"/>
<text x="1696.2" y="247.94" font-size="10" fill="#000" text-anchor="start" textLength="33.08" lengthAdjust="spacingAndGlyphs">138.540</text>
<rect x="1691" y="277" width="2" height="1" fill="#000"/>
<text x="1696.2" y="280.94" font-size="10" fill="#000" text-anchor="start" textLength="33.08" lengthAdjust="spacingAndGlyphs">137.820</text>
<rect x="1691" y="310" width="2" height="1" fill="#000"/>
<text x="1696.2" y="313.94" font-size="10" fill="#000" text-anchor="start" textLength="33.08" lengthAdjust="spacingAndGlyphs">137.100</text>
<rect x="1691" y="343" width="2" height="1" fill="#000"/>
<text x="1696.2" y="346.94" font-size="10" fill="#000" text-anchor="start" textLength="33.08" lengthAdjust="spacingAndGlyphs">136.400</text>
<rect x="1691" y="376" width="2" height="1" fill="#000"/>
<text x="1696.2" y="379.94" font-size="10" fill="#000" text-anchor="start" textLength="33.08" lengthAdjust="spacingAndGlyphs">135.680</text>
<rect x="1691" y="409" width="2" height="1" fill="#000"/>
<text x="1696.2" y="412.94" font-size="10" fill="#000" text-anchor="start" textLength="33.08" lengthAdjust="spacingAndGlyphs">134.960</text>
<rect x="1691" y="442" width="2" height="1" fill="#000"/>
<text x="1696.2" y="445.94" font-size="10" fill="#000" text-anchor="start" textLength="33.08" lengthAdjust="spacingAndGlyphs">134.240</text>
<rect x="1691" y="475" width="2" height="1" fill="#000"/>
<text x="1696.2" y="478.94" font-size="10" fill="#000" text-anchor="start" textLength="33.08" lengthAdjust="spacingAndGlyphs">133.540</text>
<rect x="1691" y="508" width="2" height="1" fill="#000"/>
<text x="1696.2" y="511.94" font-size="10" fill="#000" text-anchor="start" textLength="33.08" lengthAdjust="spacingAndGlyphs">132.820</text>
<rect x="1691" y="541" width="2" height="1" fill="#000"/>
<text x="1696.2" y="544.94" font-size="10" fill="#000" text-anchor="start" textLength="33.08" lengthAdjust="spacingAndGlyphs">132.100</text>
<rect x="1691" y="574" width="2" height="1" fill="#000"/>
<text x="1696.2" y="577.94" font-size="10" fill="#000" text-anchor="start" textLength="33.08" lengthAdjust="spacingAndGlyphs">131.400</text>
<rect x="1692" y="148" width="41" height="11" fill="#ff0000"/>
<text x="1696.2" y="157.44" font-size="10" fill="#fff" text-anchor="start" textLength="33.08" lengthAdjust="spacingAndGlyphs">140.474</text>
<rect x="1692" y="166" width="41" height="11" fill="#ff0000"/>
<text x="1696.2" y="175.44" font-size="10" fill="#fff" text-anchor="start" textLength="33.08" lengthAdjust="spacingAndGlyphs">140.086</text>
<rect x="1692" y="185" width="41" height="11" fill="#000"/>
<text x="1696.2" y="194.44" font-size="10" fill="#fff" text-anchor="start" textLength="33.08" lengthAdjust="spacingAndGlyphs">139.712</text>
<rect x="1692" y="197" width="41" height="11" fill="#3cc43c"/>
<text x="1696.2" y="206.44" font-size="10" fill="#fff" text-anchor="start" textLength="33.08" lengthAdjust="spacingAndGlyphs">139.416</text>
<rect x="1692" y="212" width="41" height="11" fill="#0000ff"/>
<text x="1696.2" y="221.44" font-size="10" fill="#fff" text-anchor="start" textLength="33.08" lengthAdjust="spacingAndGlyphs">139.092</text>
<rect x="1692" y="234" width="41" height="11" fill="#0000ff"/>
<text x="1696.2" y="243.44" font-size="10" fill="#fff" text-anchor="start" textLength="33.08" lengthAdjust="spacingAndGlyphs">138.617</text>
<g clip-path="url(#c2)" shape-rendering="crispEdges">
<rect x="0" y="673" width="1" height="14" fill="#c0c0c0"/>
<rect x="8" y="673" width="1" height="10" fill="#c0c0c0"/>
<rect x="16" y="673" width="1" height="3" fill="#c0c0c0"/>
<rect x="24" y="672" width="1" height="2" fill="#c0c0c0"/>
<rect x="32" y="665" width="1" height="9" fill="#c0c0c0"/>
<rect x="40" y="647" width="1" height="27" fill="#c0c0c0"/>
<rect x="48" y="633" width="1" height="41" fill="#c0c0c0"/>
<rect x="56" y="621" width="1" height="53" fill="#c0c0c0"/>
<rect x="64" y="606" width="1" height="68" fill="#c0c0c0"/>
<rect x="72" y="593" width="1" height="81" fill="#c0c0c0"/>
<rect x="80" y="589" width="1" height="85" fill="#c0c0c0"/>
<rect x="88" y="589" width="1" height="85" fill="#c0c0c0"/>
<rect x="96" y="599" width="1" height="75" fill="#c0c0c0"/>
<rect x="104" y="612" width="1" height="62" fill="#c0c0c0"/>
<rect x="112" y="623" width="1" height="51" fill="#c0c0c0"/>
<rect x="120" y="634" width="1" height="40" fill="#c0c0c0"/>
<rect x="128" y="634" width="1" height="40" fill="#c0c0c0"/>
<rect x="136" y="639" width="1" height="35" fill="#c0c0c0"/>
<rect x="144" y="646" width="1" height="28" fill="#c0c0c0"/>
<rect x="152" y="658" width="1" height="16" fill="#c0c0c0"/>
<rect x="160" y="671" width="1" height="3" fill="#c0c0c0"/>
<rect x="168" y="673" width="1" height="7" fill="#c0c0c0"/>
<rect x="176" y="673" width="1" height="8" fill="#c0c0c0"/>
<rect x="184" y="673" width="1" height="10" fill="#c0c0c0"/>
<rect x="192" y="673" width="1" height="14" fill="#c0c0c0"/>
<rect x="200" y="673" width="1" height="16" fill="#c0c0c0"/>
<rect x="208" y="673" width="1" height="20" fill="#c0c0c0"/>
<rect x="216" y="673" width="1" height="22" fill="#c0c0c0"/>
<rect x="224" y="673" width="1" height="23" fill="#c0c0c0"/>
<rect x="232" y="673" width="1" height="20" fill="#c0c0c0"/>
<rect x="240" y="673" width="1" height="16" fill="#c0c0c0"/>
<rect x="248" y="673" width="1" height="11" fill="#c0c0c0"/>
<rect x="256" y="673" width="1" height="8" fill="#c0c0c0"/>
<rect x="264" y="673" width="1" height="4" fill="#c0c0c0"/>
<rect x="272" y="673" width="1" height="1" fill="#c0c0c0"/>
<rect x="280" y="672" width="1" height="2" fill="#c0c0c0"/>
<rect x="288" y="666" width="1" height="8" fill="#c0c0c0"/>
<rect x="296" y="662" width="1" height="12" fill="#c0c0c0"/>
<rect x="304" y="660" width="1" height="14" fill="#c0c0c0"/>
<rect x="312" y="658" width="1" height="16" fill="#c0c0c0"/>
<rect x="320" y="659" width="1" height="15" fill="#c0c0c0"/>
<rect x="328" y="659" width="1" height="15" fill="#c0c0c0"/>
<rect x="336" y="660" width="1" height="14" fill="#c0c0c0"/>
<rect x="344" y="660" width="1" height="14" fill="#c0c0c0"/>
<rect x="352" y="662" width="1" height="12" fill="#c0c0c0"/>
<rect x="360" y="662" width="1" height="12" fill="#c0c0c0"/>
<rect x="368" y="658" width="1" height="16" fill="#c0c0c0"/>
<rect x="376" y="654" width="1" height="20" fill="#c0c0c0"/>
<rect x="384" y="650" width="1" height="24" fill="#c0c0c0"/>
<rect x="392" y="648" width="1" height="26" fill="#c0c0c0"/>
<rect x="400" y="649" width="1" height="25" fill="#c0c0c0"/>
<rect x="408" y="650" width="1" height="24" fill="#c0c0c0"/>
<rect x="416" y="650" width="1" height="24" fill="#c0c0c0"/>
<rect x="424" y="650" width="1" height="24" fill="#c0c0c0"/>
<rect x="432" y="648" width="1" height="26" fill="#c0c0c0"/>
<rect x="440" y="643" width="1" height="31" fill="#c0c0c0"/>
<rect x="448" y="634" width="1" height="40" fill="#c0c0c0"/>
<rect x="456" y="628" width="1" height="46" fill="#c0c0c0"/>
<rect x="464" y="623" width="1" height="51" fill="#c0c0c0"/>
<rect x="472" y="621" width="1" height="53" fill="#c0c0c0"/>
<rect x="480" y="620" width="1" height="54" fill="#c0c0c0"/>
<rect x="488" y="618" width="1" height="56" fill="#c0c0c0"/>
<rect x="496" y="619" width="1" height="55" fill="#c0c0c0"/>
<rect x="504" y="621" width="1" height="53" fill="#c0c0c0"/>
<rect x="512" y="622" width="1" height="52" fill="#c0c0c0"/>
<rect x="520" y="620" width="1" height="54" fill="#c0c0c0"/>
<rect x="528" y="620" width="1" height="54" fill="#c0c0c0"/>
<rect x="536" y="617" width="1" height="57" fill="#c0c0c0"/>
<rect x="544" y="617" width="1" height="57" fill="#c0c0c0"/>
<rect x="552" y="618" width="1" height="56" fill="#c0c0c0"/>
<rect x="560" y="621" width="1" height="53" fill="#c0c0c0"/>
<rect x="568" y="622" width="1" height="52" fill="#c0c0c0"/>
<rect x="576" y="626" width="1" height="48" fill="#c0c0c0"/>
<rect x="584" y="626" width="1" height="48" fill="#c0c0c0"/>
<rect x="592" y="632" width="1" height="42" fill="#c0c0c0"/>
<rect x="600" y="636" width="1" height="38" fill="#c0c0c0"/>
<rect x="608" y="641" width="1" height="33" fill="#c0c0c0"/>
<rect x="616" y="639" width="1" height="35" fill="#c0c0c0"/>
<rect x="624" y="638" width="1" height="36" fill="#c0c0c0"/>
<rect x="632" y="634" width="1" height="40" fill="#c0c0c0"/>
<rect x="640" y="631" width="1" height="43" fill="#c0c0c0"/>
<rect x="648" y="629" width="1" height="45" fill="#c0c0c0"/>
<rect x="656" y="625" width="1" height="49" fill="#c0c0c0"/>
<rect x="664" y="621" width="1" height="53" fill="#c0c0c0"/>
<rect x="672" y="619" width="1" height="55" fill="#c0c0c0"/>
<rect x="680" y="623" width="1" height="51" fill="#c0c0c0"/>
<rect x="688" y="624" width="1" height="50" fill="#c0c0c0"/>
<rect x="696" y="627" width="1" height="47" fill="#c0c0c0"/>
<rect x="704" y="634" width="1" height="40" fill="#c0c0c0"/>
<rect x="712" y="650" width="1" height="24" fill="#c0c0c0"/>
<rect x="720" y="660" width="1" height="14" fill="#c0c0c0"/>
<rect x="728" y="673" width="1" height="2" fill="#c0c0c0"/>
<rect x="736" y="673" width="1" height="17" fill="#c0c0c0"/>
<rect x="744" y="673" width="1" height="27" fill="#c0c0c0"/>
<rect x="752" y="673" width="1" height="35" fill="#c0c0c0"/>
<rect x="760" y="673" width="1" height="41" fill="#c0c0c0"/>
<rect x="768" y="673" width="1" height="42" fill="#c0c0c0"/>
<rect x="776" y="673" width="1" height="46" fill="#c0c0c0"/>
<rect x="784" y="673" width="1" height="51" fill="#c0c0c0"/>
<rect x="792" y="673" width="1" height="54" fill="#c0c0c0"/>
<rect x="800" y="673" width="1" height="60" fill="#c0c0c0"/>
<rect x="808" y="673" width="1" height="64" fill="#c0c0c0"/>
<rect x="816" y="673" width="1" height="68" fill="#c0c0c0"/>
<rect x="824" y="673" width="1" height="67" fill="#c0c0c0"/>
<rect x="832" y="673" width="1" height="66" fill="#c0c0c0"/>
<rect x="840" y="673" width="1" height="62" fill="#c0c0c0"/>
<rect x="848" y="673" width="1" height="56" fill="#c0c0c0"/>
<rect x="856" y="673" width="1" height="49" fill="#c0c0c0"/>
<rect x="864" y="673" width="1" height="42" fill="#c0c0c0"/>
<rect x="872" y="673" width="1" height="36" fill="#c0c0c0"/>
<rect x="880" y="673" width="1" height="31" fill="#c0c0c0"/>
<rect x="888" y="673" width="1" height="25" fill="#c0c0c0"/>
<rect x="896" y="673" width="1" height="17" fill="#c0c0c0"/>
<rect x="904" y="673" width="1" height="15" fill="#c0c0c0"/>
<rect x="912" y="673" width="1" height="11" fill="#c0c0c0"/>
<rect x="920" y="673" width="1" height="6" fill="#c0c0c0"/>
<rect x="928" y="672" width="1" height="2" fill="#c0c0c0"/>
<rect x="936" y="669" width="1" height="5" fill="#c0c0c0"/>
<rect x="944" y="666" width="1" height="8" fill="#c0c0c0"/>
<rect x="952" y="668" width="1" height="6" fill="#c0c0c0"/>
<rect x="960" y="668" width="1" height="6" fill="#c0c0c0"/>
<rect x="968" y="672" width="1" height="2" fill="#c0c0c0"/>
<rect x="976" y="673" width="1" height="1" fill="#c0c0c0"/>
<rect x="984" y="672" width="1" height="2" fill="#c0c0c0"/>
<rect x="992" y="672" width="1" height="2" fill="#c0c0c0"/>
<rect x="1000" y="672" width="1" height="2" fill="#c0c0c0"/>
<rect x="1008" y="670" width="1" height="4" fill="#c0c0c0"/>
<rect x="1016" y="669" width="1" height="5" fill="#c0c0c0"/>
<rect x="1024" y="670" width="1" height="4" fill="#c0c0c0"/>
<rect x="1032" y="671" width="1" height="3" fill="#c0c0c0"/>
<rect x="1040" y="672" width="1" height="2" fill="#c0c0c0"/>
<rect x="1048" y="673" width="1" height="1" fill="#c0c0c0"/>
<rect x="1056" y="673" width="1" height="5" fill="#c0c0c0"/>
<rect x="1064" y="673" width="1" height="10" fill="#c0c0c0"/>
<rect x="1072" y="673" width="1" height="11" fill="#c0c0c0"/>
<rect x="1080" y="673" width="1" height="15" fill="#c0c0c0"/>
<rect x="1088" y="673" width="1" height="16" fill="#c0c0c0"/>
<rect x="1096" y="673" width="1" height="10" fill="#c0c0c0"/>
<rect x="1104" y="673" width="1" height="12" fill="#c0c0c0"/>
<rect x="1112" y="673" width="1" height="11" fill="#c0c0c0"/>
<rect x="1120" y="673" width="1" height="10" fill="#c0c0c0"/>
<rect x="1128" y="673" width="1" height="9" fill="#c0c0c0"/>
<rect x="1136" y="672" width="1" height="2" fill="#c0c0c0"/>
<rect x="1144" y="659" width="1" height="15" fill="#c0c0c0"/>
<rect x="1152" y="650" width="1" height="24" fill="#c0c0c0"/>
<rect x="1160" y="649" width="1" height="25" fill="#c0c0c0"/>
<rect x="1168" y="649" width="1" height="25" fill="#c0c0c0"/>
<rect x="1176" y="647" width="1" height="27" fill="#c0c0c0"/>
<rect x="1184" y="646" width="1" height="28" fill="#c0c0c0"/>
<rect x="1192" y="646" width="1" height="28" fill="#c0c0c0"/>
<rect x="1200" y="649" width="1" height="25" fill="#c0c0c0"/>
<rect x="1208" y="651" width="1" height="23" fill="#c0c0c0"/>
<rect x="1216" y="652" width="1" height="22" fill="#c0c0c0"/>
<rect x="1224" y="652" width="1" height="22" fill="#c0c0c0"/>
<rect x="1232" y="649" width="1" height="25" fill="#c0c0c0"/>
<rect x="1240" y="643" width="1" height="31" fill="#c0c0c0"/>
<rect x="1248" y="639" width="1" height="35" fill="#c0c0c0"/>
<rect x="1256" y="639" width="1" height="35" fill="#c0c0c0"/>
<rect x="1264" y="642" width="1" height="32" fill="#c0c0c0"/>
<rect x="1272" y="644" width="1" height="30" fill="#c0c0c0"/>
<rect x="1280" y="644" width="1" height="30" fill="#c0c0c0"/>
<rect x="1288" y="641" width="1" height="33" fill="#c0c0c0"/>
<rect x="1296" y="640" width="1" height="34" fill="#c0c0c0"/>
<rect x="1304" y="640" width="1" height="34" fill="#c0c0c0"/>
<rect x="1312" y="640" width="1" height="34" fill="#c0c0c0"/>
<rect x="1320" y="639" width="1" height="35" fill="#c0c0c0"/>
<rect x="1328" y="643" width="1" height="31" fill="#c0c0c0"/>
<rect x="1336" y="646" width="1" height="28" fill="#c0c0c0"/>
<rect x="1344" y="647" width="1" height="27" fill="#c0c0c0"/>
<rect x="1352" y="652" width="1" height="22" fill="#c0c0c0"/>
<rect x="1360" y="660" width="1" height="14" fill="#c0c0c0"/>
<rect x="1368" y="663" width="1" height="11" fill="#c0c0c0"/>
<rect x="1376" y="665" width="1" height="9" fill="#c0c0c0"/>
<rect x="1384" y="663" width="1" height="11" fill="#c0c0c0"/>
<rect x="1392" y="661" width="1" height="13" fill="#c0c0c0"/>
<rect x="1400" y="658" width="1" height="16" fill="#c0c0c0"/>
<rect x="1408" y="659" width="1" height="15" fill="#c0c0c0"/>
<rect x="1416" y="661" width="1" height="13" fill="#c0c0c0"/>
<rect x="1424" y="663" width="1" height="11" fill="#c0c0c0"/>
<rect x="1432" y="665" width="1" height="9" fill="#c0c0c0"/>
<rect x="1440" y="662" width="1" height="12" fill="#c0c0c0"/>
<polyline fill="none" stroke="#ff0000" stroke-width="1" points="0.0,701.3 15.0,694.3 32.5,686.0 47.5,673.0 62.5,655.5 75.0,639.3 87.5,624.3 100.0,613.0 110.0,607.5 117.5,606.3 127.5,608.0 140.0,615.0 152.5,624.3 165.0,638.0 180.0,654.3 195.0,666.8 207.5,674.3 220.0,684.3 232.5,689.3 247.5,690.5 260.0,690.0 277.5,686.0 295.0,678.0 310.0,672.5 322.5,665.5 335.0,663.0 347.5,659.8 365.0,659.3 380.0,658.0 395.0,656.0 412.5,653.5 434.0,649.8 444.0,647.5 456.5,643.0 471.5,639.3 486.5,631.8 499.0,626.3 509.0,623.0 521.5,620.5 539.0,619.5 552.8,618.0 569.0,619.5 586.5,620.0 601.5,623.5 619.0,629.3 636.5,631.8 654.0,633.5 671.5,631.0 684.0,628.0 696.5,625.5 709.0,626.0 719.0,630.5 729.0,636.8 741.5,649.3 754.0,664.3 764.0,678.0 776.5,690.5 789.0,704.3 801.5,715.5 814.0,723.0 826.5,729.8 839.0,732.5 851.5,734.8 859.0,734.3 868.0,731.0 878.0,726.8 893.0,718.0 910.5,705.5 925.5,694.3 940.5,685.5 953.0,679.3 968.0,674.3 980.5,671.8 993.0,670.5 1008.0,671.3 1028.0,672.0 1048.0,672.5 1060.5,672.5 1073.0,674.3 1085.5,678.0 1100.5,681.0 1113.0,683.5 1125.5,685.0 1138.0,683.0 1150.5,676.8 1163.0,670.5 1175.5,664.3 1188.0,656.8 1200.5,651.0 1213.0,649.3 1230.5,648.5 1248.0,647.5 1263.0,645.5 1280.5,644.3 1293.0,642.5 1304.0,640.0 1322.0,639.8 1334.5,641.0 1348.0,641.5 1359.5,644.3 1372.0,648.8 1384.5,652.5 1397.0,655.5 1409.5,658.5 1422.0,660.0 1432.0,661.3 1440.8,661.3" stroke-dasharray="3 3"/>
</g>
<text x="4.5" y="591.94" font-size="10" fill="#000" text-anchor="start" textLength="124.62" lengthAdjust="spacingAndGlyphs">MACD(12,26,9) 0.2105 0.2316</text>
<rect x="1691" y="581" width="2" height="1" fill="#000"/>
<text x="1695" y="590.44" font-size="10" fill="#000" text-anchor="start" textLength="22.90" lengthAdjust="spacingAndGlyphs">1.787</text>
<rect x="1691" y="673" width="2" height="1" fill="#000"/>
<text x="1695" y="676.94" font-size="10" fill="#000" text-anchor="start" textLength="17.81" lengthAdjust="spacingAndGlyphs">0.00</text>
<rect x="1691" y="748" width="2" height="1" fill="#000"/>
<text x="1695" y="746.44" font-size="10" fill="#000" text-anchor="start" textLength="25.95" lengthAdjust="spacingAndGlyphs">-1.471</text>
<g clip-path="url(#c3)" shape-rendering="crispEdges">
<line x1="0" x2="1690" y1="787.5" y2="787.5" stroke="#c0c0c0" stroke-width="1" stroke-dasharray="3 3"/>
<line x1="0" x2="1690" y1="838.5" y2="838.5" stroke="#c0c0c0" stroke-width="1" stroke-dasharray="3 3"/>
<line x1="0" x2="1690" y1="899.5" y2="899.5" stroke="#c0c0c0" stroke-width="1" stroke-dasharray="3 3"/>
<polyline fill="none" stroke="#1e90ff" stroke-width="1" points="0.5,836.8 8.5,833.5 16.5,830.5 24.5,829.3 32.5,818.0 40.5,801.3 48.5,801.3 56.5,798.0 64.5,792.5 72.5,790.5 80.5,807.5 88.5,817.5 96.5,827.5 104.5,841.3 112.5,842.5 120.5,841.3 128.5,829.3 136.5,835.0 144.5,843.5 152.5,851.3 160.5,856.3 168.5,857.5 176.5,842.3 184.5,845.5 192.5,848.5 200.5,845.5 208.5,852.5 216.5,851.3 224.5,850.5 232.5,837.5 240.5,837.3 248.5,835.5 256.5,834.3 264.5,833.5 272.5,834.5 280.5,826.0 288.5,822.3 296.5,824.3 304.5,826.3 312.5,826.5 320.5,832.3 328.5,830.3 336.5,833.3 344.5,831.5 352.5,837.0 360.5,833.0 368.5,818.8 376.5,815.0 384.5,811.3 392.5,819.3 400.5,827.5 408.5,826.5 416.5,825.3 424.5,823.0 432.5,815.5 440.5,804.3 448.5,795.0 456.5,794.3 464.5,794.3 472.5,805.0 480.5,801.3 488.5,800.5 496.5,810.0 504.5,813.5 512.5,808.0 520.5,804.3 528.5,800.0 536.5,796.3 544.5,804.3 552.5,802.3 560.5,818.5 568.5,812.5 576.5,820.5 584.5,813.8 592.5,832.5 600.5,831.0 608.5,832.5 616.5,816.3 624.5,816.3 632.5,808.0 640.5,810.5 648.5,808.5 656.5,802.5 664.5,800.0 672.5,801.8 680.5,822.3 688.5,817.5 696.5,823.0 704.5,838.0 712.5,862.3 720.5,853.5 728.5,868.0 736.5,869.5 744.5,866.3 752.5,867.5 760.5,867.5 768.5,862.3 776.5,864.3 784.5,870.3 792.5,869.3 800.5,876.3 808.5,878.3 816.5,878.3 824.5,867.3 832.5,868.5 840.5,862.3 848.5,847.5 856.5,844.3 864.5,841.0 872.5,843.5 880.5,839.8 888.5,837.3 896.5,825.5 904.5,842.5 912.5,833.0 920.5,828.8 928.5,824.3 936.5,825.5 944.5,825.5 952.5,842.3 960.5,837.3 968.5,847.3 976.5,843.5 984.5,843.5 992.5,839.3 1000.5,838.5 1008.5,827.3 1016.5,831.0 1024.5,841.3 1032.5,839.3 1040.5,842.5 1048.5,845.5 1056.5,855.0 1064.5,858.5 1072.5,850.5 1080.5,856.5 1088.5,853.5 1096.5,827.5 1104.5,848.5 1112.5,840.5 1120.5,843.5 1128.5,840.5 1136.5,818.5 1144.5,811.3 1152.5,813.0 1160.5,829.3 1168.5,830.5 1176.5,825.5 1184.5,827.5 1192.5,829.3 1200.5,833.3 1208.5,835.5 1216.5,832.5 1224.5,829.5 1232.5,818.8 1240.5,815.5 1248.5,814.3 1256.5,822.3 1264.5,833.3 1272.5,829.3 1280.5,825.5 1288.5,817.5 1296.5,822.3 1304.5,822.3 1312.5,819.3 1320.5,821.0 1328.5,835.5 1336.5,831.3 1344.5,829.3 1352.5,839.8 1360.5,852.3 1368.5,841.3 1376.5,839.3 1384.5,830.0 1392.5,826.3 1400.5,823.0 1408.5,829.3 1416.5,841.3 1424.5,837.3 1432.5,840.5 1440.5,829.3"/>
</g>
<text x="4.5" y="763.94" font-size="10" fill="#000" text-anchor="start" textLength="67.14" lengthAdjust="spacingAndGlyphs">RSI(14) 55.9812</text>
<rect x="1691" y="753" width="2" height="1" fill="#000"/>
<text x="1695" y="761.94" font-size="10" fill="#000" text-anchor="start" textLength="15.27" lengthAdjust="spacingAndGlyphs">100</text>
<text x="1693.5" y="790.94" font-size="10" fill="#000" text-anchor="start" textLength="10.18" lengthAdjust="spacingAndGlyphs">80</text>
<text x="1693.5" y="841.94" font-size="10" fill="#000" text-anchor="start" textLength="10.18" lengthAdjust="spacingAndGlyphs">50</text>
<text x="1693.5" y="902.94" font-size="10" fill="#000" text-anchor="start" textLength="10.18" lengthAdjust="spacingAndGlyphs">15</text>
<rect x="1691" y="924" width="2" height="1" fill="#000"/>
<text x="1695" y="921.94" font-size="10" fill="#000" text-anchor="start" textLength="5.09" lengthAdjust="spacingAndGlyphs">0</text>
<rect x="0" y="926" width="1" height="3" fill="#000"/>
<text x="-0.5" y="937.94" font-size="10" fill="#000" text-anchor="start" textLength="53.48" lengthAdjust="spacingAndGlyphs">27 May 2020</text>
<rect x="64" y="926" width="1" height="3" fill="#000"/>
<text x="63.5" y="937.94" font-size="10" fill="#000" text-anchor="start" textLength="45.78" lengthAdjust="spacingAndGlyphs">5 Jun 2020</text>
<rect x="128" y="926" width="1" height="3" fill="#000"/>
<text x="127.5" y="937.94" font-size="10" fill="#000" text-anchor="start" textLength="50.92" lengthAdjust="spacingAndGlyphs">15 Jun 2020</text>
<rect x="192" y="926" width="1" height="3" fill="#000"/>
<text x="191.5" y="937.94" font-size="10" fill="#000" text-anchor="start" textLength="50.92" lengthAdjust="spacingAndGlyphs">24 Jun 2020</text>
<rect x="256" y="926" width="1" height="3" fill="#000"/>
<text x="255.5" y="937.94" font-size="10" fill="#000" text-anchor="start" textLength="42.69" lengthAdjust="spacingAndGlyphs">3 Jul 2020</text>
<rect x="320" y="926" width="1" height="3" fill="#000"/>
<text x="319.5" y="937.94" font-size="10" fill="#000" text-anchor="start" textLength="47.83" lengthAdjust="spacingAndGlyphs">13 Jul 2020</text>
<rect x="384" y="926" width="1" height="3" fill="#000"/>
<text x="383.5" y="937.94" font-size="10" fill="#000" text-anchor="start" textLength="47.83" lengthAdjust="spacingAndGlyphs">22 Jul 2020</text>
<rect x="448" y="926" width="1" height="3" fill="#000"/>
<text x="447.5" y="937.94" font-size="10" fill="#000" text-anchor="start" textLength="47.83" lengthAdjust="spacingAndGlyphs">31 Jul 2020</text>
<rect x="512" y="926" width="1" height="3" fill="#000"/>
<text x="511.5" y="937.94" font-size="10" fill="#000" text-anchor="start" textLength="51.96" lengthAdjust="spacingAndGlyphs">10 Aug 2020</text>
<rect x="576" y="926" width="1" height="3" fill="#000"/>
<text x="575.5" y="937.94" font-size="10" fill="#000" text-anchor="start" textLength="51.96" lengthAdjust="spacingAndGlyphs">19 Aug 2020</text>
<rect x="640" y="926" width="1" height="3" fill="#000"/>
<text x="639.5" y="937.94" font-size="10" fill="#000" text-anchor="start" textLength="51.96" lengthAdjust="spacingAndGlyphs">28 Aug 2020</text>
<rect x="704" y="926" width="1" height="3" fill="#000"/>
<text x="703.5" y="937.94" font-size="10" fill="#000" text-anchor="start" textLength="47.32" lengthAdjust="spacingAndGlyphs">7 Sep 2020</text>
<rect x="768" y="926" width="1" height="3" fill="#000"/>
<text x="767.5" y="937.94" font-size="10" fill="#000" text-anchor="start" textLength="52.47" lengthAdjust="spacingAndGlyphs">16 Sep 2020</text>
<rect x="832" y="926" width="1" height="3" fill="#000"/>
<text x="831.5" y="937.94" font-size="10" fill="#000" text-anchor="start" textLength="52.47" lengthAdjust="spacingAndGlyphs">25 Sep 2020</text>
<rect x="896" y="926" width="1" height="3" fill="#000"/>
<text x="895.5" y="937.94" font-size="10" fill="#000" text-anchor="start" textLength="45.25" lengthAdjust="spacingAndGlyphs">5 Oct 2020</text>
<rect x="960" y="926" width="1" height="3" fill="#000"/>
<text x="959.5" y="937.94" font-size="10" fill="#000" text-anchor="start" textLength="50.40" lengthAdjust="spacingAndGlyphs">14 Oct 2020</text>
<rect x="1024" y="926" width="1" height="3" fill="#000"/>
<text x="1023.5" y="937.94" font-size="10" fill="#000" text-anchor="start" textLength="50.40" lengthAdjust="spacingAndGlyphs">23 Oct 2020</text>
<rect x="1088" y="926" width="1" height="3" fill="#000"/>
<text x="1087.5" y="937.94" font-size="10" fill="#000" text-anchor="start" textLength="47.31" lengthAdjust="spacingAndGlyphs">2 Nov 2020</text>
<rect x="1152" y="926" width="1" height="3" fill="#000"/>
<text x="1151.5" y="937.94" font-size="10" fill="#000" text-anchor="start" textLength="51.77" lengthAdjust="spacingAndGlyphs">11 Nov 2020</text>
<rect x="1216" y="926" width="1" height="3" fill="#000"/>
<text x="1215.5" y="937.94" font-size="10" fill="#000" text-anchor="start" textLength="52.46" lengthAdjust="spacingAndGlyphs">20 Nov 2020</text>
<rect x="1280" y="926" width="1" height="3" fill="#000"/>
<text x="1279.5" y="937.94" font-size="10" fill="#000" text-anchor="start" textLength="52.46" lengthAdjust="spacingAndGlyphs">30 Nov 2020</text>
<rect x="1344" y="926" width="1" height="3" fill="#000"/>
<text x="1343.5" y="937.94" font-size="10" fill="#000" text-anchor="start" textLength="47.31" lengthAdjust="spacingAndGlyphs">9 Dec 2020</text>
<rect x="1408" y="926" width="1" height="3" fill="#000"/>
<text x="1407.5" y="937.94" font-size="10" fill="#000" text-anchor="start" textLength="52.46" lengthAdjust="spacingAndGlyphs">18 Dec 2020</text>
<g clip-path="url(#c1)">
<rect x="-19.5" y="180.5" width="74" height="18" fill="#fff" stroke="#ff0000" stroke-width="1" shape-rendering="crispEdges"/>
<text x="-2.5" y="195.42" font-size="17.2" fill="#ff0000" textLength="55.5" lengthAdjust="spacingAndGlyphs">139.715</text>
<rect x="55" y="189" width="9" height="1" fill="#ff0000"/>
<rect x="593.5" y="44.5" width="61" height="18" fill="#fff" stroke="#ff0000" stroke-width="1" shape-rendering="crispEdges"/>
<text x="596" y="59.42" font-size="17.2" fill="#ff0000" textLength="57" lengthAdjust="spacingAndGlyphs">142.659</text>
<rect x="655" y="53" width="9" height="1" fill="#ff0000"/>
<rect x="1081.5" y="155.5" width="61" height="16" fill="#fff" stroke="#ff0000" stroke-width="1" shape-rendering="crispEdges"/>
<text x="1083.5" y="169.42" font-size="17.2" fill="#ff0000" textLength="57.5" lengthAdjust="spacingAndGlyphs">140.281</text>
<rect x="1143" y="163" width="9" height="1" fill="#ff0000"/>
<rect x="1241.5" y="135.5" width="61" height="18" fill="#fff" stroke="#ff0000" stroke-width="1" shape-rendering="crispEdges"/>
<text x="1243" y="150.42" font-size="17.2" fill="#ff0000" textLength="58" lengthAdjust="spacingAndGlyphs">140.693</text>
<rect x="1303" y="144" width="9" height="1" fill="#ff0000"/>
<rect x="1041" y="203" width="10" height="1" fill="#ff0000"/>
<rect x="1047.5" y="200.5" width="3" height="5" fill="#fff" stroke="#ff0000" stroke-width="1" shape-rendering="crispEdges"/>
<rect x="1051.5" y="192.5" width="73" height="23" fill="#fff" stroke="#ff0000" stroke-width="1" shape-rendering="crispEdges"/>
<text x="1053.5" y="211.98" font-size="23.2" fill="#ff0000" textLength="69.5" lengthAdjust="spacingAndGlyphs">139.416</text>
<rect x="1505.5" y="208.5" width="110" height="24" fill="#fff" stroke="#404040" stroke-width="1" shape-rendering="crispEdges"/>
<rect x="1506" y="218" width="109" height="1" fill="#0000ff"/>
<text x="1505.6" y="227.6" font-size="21" fill="#00f800" font-family="'Liberation Sans', 'Noto Sans CJK SC', sans-serif" font-weight="300" textLength="107" lengthAdjust="spacing">多空转折点</text>
<rect x="1558" y="206" width="4" height="1" fill="#e040e0"/>
<rect x="1558" y="207" width="1" height="1" fill="#e040e0"/>
<rect x="1561" y="207" width="1" height="1" fill="#e040e0"/>
<line x1="1307.5" y1="153" x2="1353.4" y2="303.4" stroke="#ff0000" stroke-width="3"/>
<polygon fill="#ff0000" points="1348.6,304.9 1356.2,312.5 1358.2,302.0"/>
<line x1="1356.2" y1="312.5" x2="1400.4" y2="168.1" stroke="#ff0000" stroke-width="3"/>
<polygon fill="#ff0000" points="1405.2,169.5 1403.2,159 1395.6,166.6"/>
<line x1="1403.2" y1="159" x2="1422.4" y2="294.1" stroke="#ff0000" stroke-width="3"/>
<polygon fill="#ff0000" points="1417.4,294.8 1423.7,303.5 1427.3,293.4"/>
<line x1="1423.7" y1="303.5" x2="1446.5" y2="183.3" stroke="#ff0000" stroke-width="3"/>
<polygon fill="#ff0000" points="1451.0,184.2 1448.5,172.5 1441.9,182.5"/>
</g>
<path d="M3,35 L10,35 L6.5,31 Z" fill="#000"/>
<text x="15" y="35.94" font-size="10" fill="#000" text-anchor="start" textLength="62.53" lengthAdjust="spacingAndGlyphs">GBPJPY-,Daily</text>
<text x="84" y="35.94" font-size="10" fill="#000" text-anchor="start" textLength="141.46" lengthAdjust="spacingAndGlyphs">138.691 140.291 138.520 139.712</text>
<defs><linearGradient id="gb" x1="0" y1="0" x2="0" y2="1"><stop offset="0" stop-color="#3b3be6"/><stop offset="0.55" stop-color="#1212c8"/><stop offset="1" stop-color="#0000a8"/></linearGradient><linearGradient id="gt" x1="0" y1="0" x2="0" y2="1"><stop offset="0" stop-color="#5858f4"/><stop offset="1" stop-color="#3a3ae4"/></linearGradient><linearGradient id="gbtn" x1="0" y1="0" x2="0" y2="1"><stop offset="0" stop-color="#f6f6f6"/><stop offset="0.3" stop-color="#ececec"/><stop offset="0.32" stop-color="#dedede"/><stop offset="1" stop-color="#d2d2d2"/></linearGradient></defs>
<rect x="3" y="44" width="52" height="24" fill="url(#gt)"/>
<rect x="170" y="44" width="52" height="24" fill="url(#gt)"/>
<rect x="3" y="68" width="109" height="40" fill="url(#gb)"/>
<rect x="114" y="68" width="108" height="40" fill="url(#gb)"/>
<rect x="3" y="44" width="52" height="1" fill="#0a0ac0"/>
<rect x="3" y="44" width="1" height="24" fill="#0a0ac0"/>
<rect x="54" y="44" width="1" height="24" fill="#0a0ac0"/>
<rect x="170" y="44" width="52" height="1" fill="#0a0ac0"/>
<rect x="170" y="44" width="1" height="24" fill="#0a0ac0"/>
<rect x="221" y="44" width="1" height="24" fill="#0a0ac0"/>
<rect x="3" y="68" width="1" height="40" fill="#0a0ac0"/>
<rect x="221" y="68" width="1" height="40" fill="#0a0ac0"/>
<rect x="111" y="68" width="1" height="40" fill="#0a0ab0"/>
<rect x="114" y="68" width="1" height="40" fill="#0a0ab0"/>
<rect x="54" y="68" width="58" height="1" fill="#1c1cc4"/>
<rect x="114" y="68" width="57" height="1" fill="#1c1cc4"/>
<rect x="7" y="67" width="44" height="1" fill="#1a1ab4"/>
<rect x="7" y="68" width="44" height="1" fill="#7c7cf4"/>
<rect x="174" y="67" width="44" height="1" fill="#1a1ab4"/>
<rect x="174" y="68" width="44" height="1" fill="#7c7cf4"/>
<rect x="57.5" y="44.5" width="110" height="21" fill="#fff" stroke="#b4b4b4" stroke-width="1"/>
<rect x="59" y="46" width="19" height="19" fill="url(#gbtn)" stroke="#c4c4c4" stroke-width="0.8"/>
<rect x="147" y="46" width="19" height="19" fill="url(#gbtn)" stroke="#c4c4c4" stroke-width="0.8"/>
<path d="M65,53 L70.4,53 L67.7,56.2 Z" fill="#4464c4"/>
<path d="M154,56.2 L159.4,56.2 L156.7,53 Z" fill="#4464c4"/>
<text x="142.5" y="59.33" font-size="12.6" fill="#000" text-anchor="end" textLength="23.30" lengthAdjust="spacingAndGlyphs">1.00</text>
<text x="28.5" y="59.77" font-size="12.4" fill="#fff" text-anchor="middle" textLength="26.09" lengthAdjust="spacingAndGlyphs">SELL</text>
<text x="196" y="59.77" font-size="12.4" fill="#fff" text-anchor="middle" textLength="24.22" lengthAdjust="spacingAndGlyphs">BUY</text>
<text x="26.3" y="99.03" font-size="12.6" fill="#fff" text-anchor="start" textLength="20.60" lengthAdjust="spacingAndGlyphs" font-weight="bold">139</text>
<text x="50.2" y="98.90" font-size="34.6" fill="#fff" text-anchor="start" textLength="35.41" lengthAdjust="spacingAndGlyphs">71</text>
<text x="90.2" y="83.26" font-size="11.8" fill="#fff" text-anchor="start" textLength="6.56" lengthAdjust="spacingAndGlyphs" font-weight="bold">2</text>
<text x="136.3" y="99.03" font-size="12.6" fill="#fff" text-anchor="start" textLength="20.60" lengthAdjust="spacingAndGlyphs" font-weight="bold">139</text>
<text x="160.8" y="98.90" font-size="34.6" fill="#fff" text-anchor="start" textLength="35.41" lengthAdjust="spacingAndGlyphs">78</text>
<text x="202" y="83.26" font-size="11.8" fill="#fff" text-anchor="start" textLength="6.56" lengthAdjust="spacingAndGlyphs" font-weight="bold">3</text>
<rect x="0" y="0" width="1737" height="20" fill="#f0f0f0"/>
<rect x="0" y="19" width="1737" height="1" fill="#e2e2e2"/>
<rect x="0" y="20" width="1737" height="1" fill="#b0b0b0"/>
<rect x="0" y="21" width="1737" height="1" fill="#6c6c6c"/>
<rect x="0" y="22" width="1737" height="1" fill="#d4d4d4"/>
<rect x="0" y="23" width="1737" height="1" fill="#fff"/>
<rect x="13" y="20" width="1" height="1" fill="#202020"/>
<rect x="13" y="22" width="1" height="1" fill="#202020"/>
<rect x="1736" y="22" width="1" height="920" fill="#e0e0e0"/>
<g>
<rect x="-3" y="1.2" width="16.3" height="13.6" rx="1.6" fill="#fff" stroke="#3b78c6" stroke-width="1.5"/>
<rect x="0" y="2" width="2" height="1" fill="#5a90d8"/>
<rect x="0" y="3" width="2" height="10" fill="#3c4454"/>
<rect x="3" y="3" width="1" height="1" fill="#e02020"/>
<rect x="5" y="3" width="8" height="1" fill="#b4ccf0"/>
<rect x="3" y="5" width="1" height="1" fill="#303030"/>
<rect x="5" y="5" width="8" height="1" fill="#b4ccf0"/>
<rect x="3" y="7" width="1" height="1" fill="#303030"/>
<rect x="5" y="7" width="8" height="1" fill="#b4ccf0"/>
<rect x="3" y="9" width="1" height="1" fill="#e02020"/>
<rect x="5" y="9" width="8" height="1" fill="#b4ccf0"/>
<rect x="26.5" y="0.5" width="12" height="13" fill="#f6f5f0" stroke="#b6ae9e"/>
<path d="M29.5,2 v5 M29.5,4.5 h2 M31.5,3 v5 M35.5,2 v4 M35.5,3.5 h2 M37.5,2.5 v4" stroke="#404040" stroke-width="1" fill="none"/>
<circle cx="34.5" cy="9" r="4.9" fill="#cfe0f4" fill-opacity="0.8" stroke="#5a92dc" stroke-width="1.2"/>
<path d="M38.6,12.9 L42.6,16.2" stroke="#c8a024" stroke-width="2.6" stroke-linecap="round"/>
<rect x="51" y="1" width="1" height="17" fill="#a0a0a0"/>
<path d="M61.5,0.5 h7.5 l3,3 v10 h-10.5 z" fill="#fff" stroke="#808080"/>
<path d="M63.5,3.5 h3 M63.5,6 h5 M63.5,8.5 h5" stroke="#707070" stroke-width="1"/>
<path d="M71.2,6.6 v11 M65.2,12.3 h12" stroke="#128a12" stroke-width="4"/>
<path d="M71.2,7.2 v9.8 M65.8,12.3 h10.8" stroke="#22c822" stroke-width="2.6"/>
<text x="79.6" y="11.5" font-size="12.3" fill="#000" font-family="'Liberation Sans', 'Noto Sans CJK SC', sans-serif" textLength="36.9" lengthAdjust="spacing">新订单</text>
<defs><linearGradient id="gg" x1="0" y1="0" x2="1" y2="1"><stop offset="0" stop-color="#fbe458"/><stop offset="1" stop-color="#d8901c"/></linearGradient></defs>
<path d="M128.3,8.6 L133.8,1.4 L144,8.6 L136.8,14.6 Z" fill="url(#gg)" stroke="#b88418" stroke-width="0.8"/>
<path d="M128.5,9.6 L136.8,15.9 L144,9.8" fill="none" stroke="#9c6810" stroke-width="1.3"/>
<rect x="158" y="0.5" width="10" height="9" fill="#5c9ae0" stroke="#3a70b8"/>
<rect x="160" y="3" width="6" height="1" fill="#fff"/>
<rect x="160" y="6" width="6" height="1" fill="#d8e8f8"/>
<path d="M156,14.5 a3,3 0 0 1 3,-4 a4,4 0 0 1 7.5,-0.5 a3,3 0 0 1 4.5,4.5 z" fill="#eef3fa" stroke="#7a9cc8" stroke-width="1"/>
<circle cx="192" cy="7.5" r="7.3" fill="none" stroke="#8ab0dc" stroke-width="1.4"/>
<circle cx="192" cy="7.5" r="4.2" fill="none" stroke="#5a8cd0" stroke-width="1.4"/>
<circle cx="192" cy="7.5" r="1.8" fill="#3060c0"/>
<path d="M192,8.5 L192,15.5 A8,8 0 0 0 199.3,9.5" fill="none" stroke="#48b048" stroke-width="1.6"/>
<path d="M211.5,6 L227.5,6 L222,12 L221,16 L218,16 L217,12 Z" fill="#f4c838" stroke="#c09018" stroke-width="1"/>
<ellipse cx="219.5" cy="5.5" rx="8.5" ry="2.6" fill="#78a8e0" stroke="#4878c0" stroke-width="1"/>
<path d="M215,5 a4.5,4.5 0 0 1 9,0 z" fill="#6aa0e0" stroke="#4878c0" stroke-width="1"/>
<circle cx="223.5" cy="12.5" r="4.3" fill="#e02818" stroke="#b01808" stroke-width="0.8"/>
<rect x="222" y="11" width="3" height="3" fill="#fff"/>
<text x="232.3" y="11.4" font-size="12.3" fill="#000" font-family="'Liberation Sans', 'Noto Sans CJK SC', sans-serif" textLength="47.6" lengthAdjust="spacing">自动交易</text>
<rect x="287" y="0" width="1" height="19" fill="#a0a0a0"/>
<rect x="291" y="2" width="3" height="1" fill="#b8b8b8"/>
<rect x="291" y="4" width="3" height="1" fill="#b8b8b8"/>
<rect x="291" y="6" width="3" height="1" fill="#b8b8b8"/>
<rect x="291" y="8" width="3" height="1" fill="#b8b8b8"/>
<rect x="291" y="10" width="3" height="1" fill="#b8b8b8"/>
<rect x="291" y="12" width="3" height="1" fill="#b8b8b8"/>
<rect x="291" y="14" width="3" height="1" fill="#b8b8b8"/>
<rect x="291" y="16" width="3" height="1" fill="#b8b8b8"/>
<rect x="305" y="3" width="1" height="13" fill="#585858"/>
<rect x="303" y="13" width="13" height="1" fill="#585858"/>
<path d="M304,4.5 L305.5,1.8 L307,4.5 Z M314.5,12 L317.2,13.5 L314.5,15 Z" fill="#585858"/>
<path d="M311.8,3.8 v7 M309.3,10.4 h2.5 M311.8,4.4 h2.3" stroke="#12a012" stroke-width="1.4" fill="none"/>
<rect x="325" y="1" width="1" height="17" fill="#a0a0a0"/>
<rect x="327" y="0" width="24" height="19" fill="#f8f8f8"/>
<rect x="333" y="3" width="1" height="13" fill="#585858"/>
<rect x="331" y="13" width="13" height="1" fill="#585858"/>
<path d="M332,4.5 L333.5,1.8 L335,4.5 Z M342.5,12 L345.2,13.5 L342.5,15 Z" fill="#585858"/>
<rect x="339" y="0" width="1" height="12" fill="#1c8c1c"/>
<defs><linearGradient id="gc" x1="0" y1="0" x2="1" y2="0"><stop offset="0" stop-color="#58e858"/><stop offset="1" stop-color="#18b018"/></linearGradient></defs><rect x="337.5" y="2.5" width="4.4" height="7.2" fill="url(#gc)" stroke="#158a15"/>
<rect x="361" y="3" width="1" height="13" fill="#585858"/>
<rect x="359" y="13" width="13" height="1" fill="#585858"/>
<path d="M360,4.5 L361.5,1.8 L363,4.5 Z M370.5,12 L373.2,13.5 L370.5,15 Z" fill="#585858"/>
<path d="M360.2,10.8 C362.5,9 364.5,5.2 366.3,5.4 C368,5.6 369.5,8 371.8,9.2" stroke="#2ca02c" stroke-width="1.3" fill="none"/>
<rect x="382" y="1" width="1" height="17" fill="#a0a0a0"/>
<path d="M401,9.8 L406,14.6" stroke="#b08818" stroke-width="3.4" stroke-linecap="round"/>
<path d="M401.3,10.1 L405.8,14.4" stroke="#f0d040" stroke-width="1.6" stroke-linecap="round"/>
<circle cx="397" cy="5.9" r="5.5" fill="#d4e6f8" stroke="#3a7cd2" stroke-width="1.3"/>
<path d="M393.6,5.9 h6.8" stroke="#2f74c8" stroke-width="1.8"/>
<path d="M397,2.5 v6.8" stroke="#2f74c8" stroke-width="1.8"/>
<path d="M429.3,9.8 L434.3,14.6" stroke="#b08818" stroke-width="3.4" stroke-linecap="round"/>
<path d="M429.6,10.1 L434.1,14.4" stroke="#f0d040" stroke-width="1.6" stroke-linecap="round"/>
<circle cx="425.3" cy="5.9" r="5.5" fill="#d4e6f8" stroke="#3a7cd2" stroke-width="1.3"/>
<path d="M421.90000000000003,5.9 h6.8" stroke="#2f74c8" stroke-width="1.8"/>
<defs><linearGradient id="gtg" x1="0" y1="0" x2="0" y2="1"><stop offset="0" stop-color="#6cc048"/><stop offset="1" stop-color="#3c9420"/></linearGradient><linearGradient id="gtb" x1="0" y1="0" x2="0" y2="1"><stop offset="0" stop-color="#4c80e0"/><stop offset="1" stop-color="#2450b8"/></linearGradient></defs>
<rect x="447" y="0" width="7.8" height="7.6" rx="1" fill="url(#gtg)"/>
<rect x="448" y="3" width="5.8" height="3.5" rx="0.8" fill="#fff"/>
<rect x="449" y="4.4" width="3.8" height="0.9" fill="#58a838"/>
<rect x="448.2" y="1.1" width="1" height="1" fill="#fff" fill-opacity="0.9"/>
<rect x="455.4" y="0" width="7.8" height="7.6" rx="1" fill="url(#gtb)"/>
<rect x="456.4" y="3" width="5.8" height="3.5" rx="0.8" fill="#fff"/>
<rect x="457.4" y="4.4" width="3.8" height="0.9" fill="#3868d0"/>
<rect x="456.59999999999997" y="1.1" width="1" height="1" fill="#fff" fill-opacity="0.9"/>
<rect x="447" y="8.2" width="7.8" height="7.6" rx="1" fill="url(#gtb)"/>
<rect x="448" y="11.2" width="5.8" height="3.5" rx="0.8" fill="#fff"/>
<rect x="449" y="12.6" width="3.8" height="0.9" fill="#3868d0"/>
<rect x="448.2" y="9.299999999999999" width="1" height="1" fill="#fff" fill-opacity="0.9"/>
<rect x="455.4" y="8.2" width="7.8" height="7.6" rx="1" fill="url(#gtg)"/>
<rect x="456.4" y="11.2" width="5.8" height="3.5" rx="0.8" fill="#fff"/>
<rect x="457.4" y="12.6" width="3.8" height="0.9" fill="#58a838"/>
<rect x="456.59999999999997" y="9.299999999999999" width="1" height="1" fill="#fff" fill-opacity="0.9"/>
<rect x="472" y="1" width="1" height="17" fill="#a0a0a0"/>
<rect x="477" y="0" width="1" height="19" fill="#a8a8a8"/>
<rect x="478" y="0" width="25" height="19" fill="#f7f7f7"/>
<rect x="485" y="3" width="1" height="13" fill="#585858"/>
<rect x="483" y="13" width="13" height="1" fill="#585858"/>
<path d="M484,4.5 L485.5,1.8 L487,4.5 Z M494.5,12 L497.2,13.5 L494.5,15 Z" fill="#585858"/>
<path d="M490.4,4.8 L494,7.8 L490.4,10.8 Z" fill="#78dc78" stroke="#1c9c1c" stroke-width="1"/>
<rect x="505" y="0" width="1" height="19" fill="#a8a8a8"/>
<rect x="506" y="0" width="25" height="19" fill="#f7f7f7"/>
<rect x="513" y="3" width="1" height="13" fill="#585858"/>
<rect x="511" y="13" width="13" height="1" fill="#585858"/>
<path d="M512,4.5 L513.5,1.8 L515,4.5 Z M522.5,12 L525.2,13.5 L522.5,15 Z" fill="#585858"/>
<path d="M519.5,2.2 V11.7" stroke="#2080c4" stroke-width="1.4"/>
<path d="M524.8,7.5 h-4 M523,5.3 l-2.6,2.2 l2.6,2.2" stroke="#d04010" stroke-width="1.2" fill="none"/>
<rect x="534" y="1" width="1" height="17" fill="#a0a0a0"/>
<path d="M546.5,0.8 h6 l3,3 v8 h-9 z" fill="#f4f4f4" stroke="#909090"/>
<path d="M544.5,2.5 h7 l2.5,2.5 v8.5 h-9.5 z" fill="#fff" stroke="#808080"/>
<path d="M546.5,5 v5 M546.5,7.5 h2.5" stroke="#707070" stroke-width="1"/>
<path d="M554.2,6.3 v11.2 M548.4,11.8 h11.8" stroke="#128a12" stroke-width="4"/>
<path d="M554.2,6.9 v10 M549,11.8 h10.6" stroke="#22c822" stroke-width="2.6"/>
<path d="M565,7 L571,7 L568,10.2 Z" fill="#000"/>
<defs><linearGradient id="gck" x1="0" y1="0" x2="0" y2="1"><stop offset="0" stop-color="#2a78e0"/><stop offset="1" stop-color="#0c44a4"/></linearGradient></defs>
<circle cx="589.8" cy="7.8" r="6.7" fill="#eaf1fa" stroke="url(#gck)" stroke-width="2.7"/>
<circle cx="589.8" cy="7.8" r="4.6" fill="none" stroke="#9eb8dc" stroke-width="0.9" stroke-dasharray="0.7 1.7"/>
<path d="M589.5,4.6 V8.2 L592.6,8.6" stroke="#303030" stroke-width="1.2" fill="none"/>
<path d="M605,7 L611,7 L608,10.2 Z" fill="#000"/>
<rect x="621.5" y="1.5" width="15" height="13" fill="#fff" stroke="#3a70c4" stroke-width="1.3"/>
<rect x="622" y="2" width="14" height="2" fill="#6a9ce0"/>
<path d="M623.5,7.5 l2.5,-1 l2,1 l2.5,-1.5 l2,1 l2,-1.5" stroke="#a82818" stroke-width="1.5" fill="none"/>
<path d="M623.5,12.5 l2.5,-1 l2,1 l2.5,-2 l2,1.5 l2,-1" stroke="#189028" stroke-width="1.5" fill="none"/>
<rect x="622" y="9" width="14" height="1" fill="#b8cce8"/>
<path d="M644,7 L650,7 L647,10.2 Z" fill="#000"/>
<rect x="655" y="1" width="1" height="17" fill="#a0a0a0"/>
<rect x="659" y="2" width="3" height="1" fill="#b8b8b8"/>
<rect x="659" y="4" width="3" height="1" fill="#b8b8b8"/>
<rect x="659" y="6" width="3" height="1" fill="#b8b8b8"/>
<rect x="659" y="8" width="3" height="1" fill="#b8b8b8"/>
<rect x="659" y="10" width="3" height="1" fill="#b8b8b8"/>
<rect x="659" y="12" width="3" height="1" fill="#b8b8b8"/>
<rect x="659" y="14" width="3" height="1" fill="#b8b8b8"/>
<rect x="659" y="16" width="3" height="1" fill="#b8b8b8"/>
<rect x="665" y="1" width="1" height="17" fill="#c8c8c8"/>
<rect x="666" y="0" width="24" height="19" fill="#f8f8f8"/>
<path d="M673,1.5 L673,13.5 L676,10.8 L678.3,15.5 L680.3,14.6 L678,10 L682,10 Z" fill="#505050"/>
<path d="M698,8.5 h6 M707,8.5 h6 M705.5,1 v6 M705.5,10 v6" stroke="#404040" stroke-width="1"/>
<rect x="722" y="1" width="1" height="17" fill="#a0a0a0"/>
<rect x="739" y="2" width="1" height="14" fill="#404040"/>
<rect x="762" y="8" width="13" height="1" fill="#404040"/>
<path d="M789.5,15 L802,2.5" stroke="#505050" stroke-width="1.1"/>
<path d="M816.4,9.8 L829.6,2.8 M817.6,13.9 L830.4,6.2 M819.5,7 v6.5 M822.5,5 v6.5 M825.5,3 v6.8 M828.5,0.5 v7.5" stroke="#505050" stroke-width="1" fill="none"/>
<text x="826.6" y="17.11" font-size="7.6" fill="#303030" text-anchor="start" textLength="4.82" lengthAdjust="spacingAndGlyphs" font-weight="bold">E</text>
<line x1="845" x2="858" y1="1.5" y2="1.5" stroke="#505050" stroke-width="1" stroke-dasharray="1 1"/>
<line x1="845" x2="858" y1="4.5" y2="4.5" stroke="#505050" stroke-width="1" stroke-dasharray="1 1"/>
<line x1="845" x2="858" y1="7.5" y2="7.5" stroke="#505050" stroke-width="1" stroke-dasharray="1 1"/>
<line x1="845" x2="858" y1="10.5" y2="10.5" stroke="#505050" stroke-width="1" stroke-dasharray="1 1"/>
<line x1="845" x2="855" y1="13.5" y2="13.5" stroke="#505050" stroke-width="1" stroke-dasharray="1 1"/>
<text x="854.6" y="17.11" font-size="7.6" fill="#303030" text-anchor="start" textLength="4.41" lengthAdjust="spacingAndGlyphs" font-weight="bold">F</text>
<text x="879.6" y="12.93" font-size="12.6" fill="#606060" text-anchor="middle" textLength="8.24" lengthAdjust="spacingAndGlyphs" stroke="#606060" stroke-width="0.45">A</text>
<rect x="901.5" y="1.5" width="12" height="13" fill="none" stroke="#606060" stroke-width="1" stroke-dasharray="1 1" shape-rendering="crispEdges"/>
<text x="907.8" y="12.99" font-size="11.6" fill="#505050" text-anchor="middle" textLength="7.79" lengthAdjust="spacingAndGlyphs" font-weight="bold">T</text>
<path d="M929,5 l3,-3 l3,3 l-3,2.5 z M937,12.5 l3,-2.5 l3,2.5 l-3,3 z" fill="#404040"/>
<path d="M931,8 l3,3 l5,-5" stroke="#404040" stroke-width="1.4" fill="none"/>
<path d="M950,7 L956,7 L953,10.2 Z" fill="#000"/>
<rect x="961" y="1" width="1" height="17" fill="#a0a0a0"/>
<rect x="964" y="2" width="3" height="1" fill="#b8b8b8"/>
<rect x="964" y="4" width="3" height="1" fill="#b8b8b8"/>
<rect x="964" y="6" width="3" height="1" fill="#b8b8b8"/>
<rect x="964" y="8" width="3" height="1" fill="#b8b8b8"/>
<rect x="964" y="10" width="3" height="1" fill="#b8b8b8"/>
<rect x="964" y="12" width="3" height="1" fill="#b8b8b8"/>
<rect x="964" y="14" width="3" height="1" fill="#b8b8b8"/>
<rect x="964" y="16" width="3" height="1" fill="#b8b8b8"/>
<text x="976.7" y="11.94" font-size="10" fill="#404040" text-anchor="start" textLength="13.06" lengthAdjust="spacingAndGlyphs">M1</text>
<text x="1004.7" y="11.94" font-size="10" fill="#404040" text-anchor="start" textLength="13.06" lengthAdjust="spacingAndGlyphs">M5</text>
<text x="1030.7" y="11.94" font-size="10" fill="#404040" text-anchor="start" textLength="18.29" lengthAdjust="spacingAndGlyphs">M15</text>
<text x="1058.7" y="11.94" font-size="10" fill="#404040" text-anchor="start" textLength="18.29" lengthAdjust="spacingAndGlyphs">M30</text>
<text x="1089.7" y="11.94" font-size="10" fill="#404040" text-anchor="start" textLength="12.02" lengthAdjust="spacingAndGlyphs">H1</text>
<text x="1116.7" y="11.94" font-size="10" fill="#404040" text-anchor="start" textLength="12.02" lengthAdjust="spacingAndGlyphs">H4</text>
<rect x="1139" y="1" width="1" height="17" fill="#a0a0a0"/>
<rect x="1140" y="0" width="24" height="19" fill="#f8f8f8"/>
<text x="1145.7" y="11.94" font-size="10" fill="#404040" text-anchor="start" textLength="12.02" lengthAdjust="spacingAndGlyphs">D1</text>
<text x="1173.7" y="11.94" font-size="10" fill="#404040" text-anchor="start" textLength="14.10" lengthAdjust="spacingAndGlyphs">W1</text>
<text x="1199.7" y="11.94" font-size="10" fill="#404040" text-anchor="start" textLength="14.62" lengthAdjust="spacingAndGlyphs">MN</text>
<rect x="1222" y="1" width="1" height="17" fill="#a0a0a0"/>
<circle cx="1692.3" cy="5.5" r="3.9" fill="#f4f4f4" stroke="#2a62cc" stroke-width="1.3"/>
<path d="M1689.6,8.6 L1685,12.6" stroke="#2a62cc" stroke-width="2.2" stroke-linecap="round"/>
<path d="M1710,10 a6,5 0 1 1 7,5 l-3.5,0 l-1.2,2 l-0.3,-2.3 a6,5 0 0 1 -2,-4.7 z" fill="#e4e6ee" stroke="#b8b8c0" stroke-width="0.8"/>
<defs><linearGradient id="gr" x1="0" y1="0" x2="0" y2="1"><stop offset="0" stop-color="#f05030"/><stop offset="1" stop-color="#d02010"/></linearGradient></defs>
<circle cx="1723.5" cy="6" r="8" fill="url(#gr)"/>
<text x="1723.5" y="9.94" font-size="13.5" fill="#fff" text-anchor="middle" textLength="7.51" lengthAdjust="spacingAndGlyphs">1</text>
</g>
</svg>
</body></html>
